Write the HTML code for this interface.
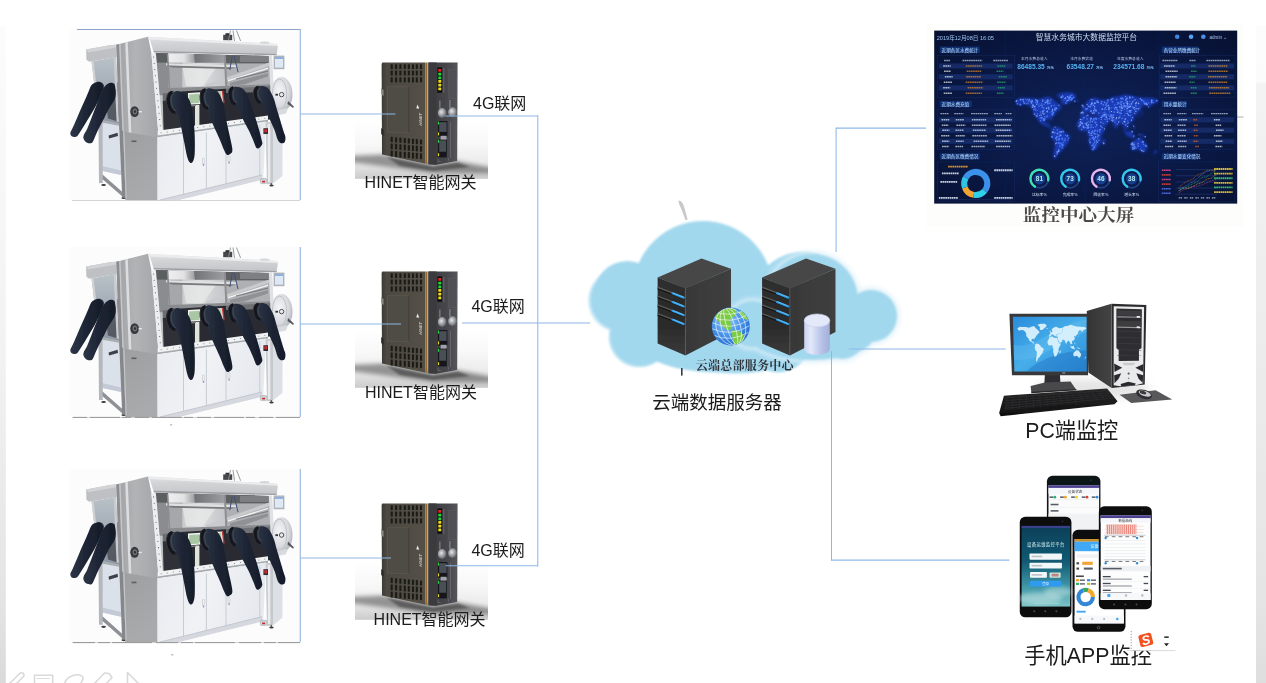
<!DOCTYPE html>
<html lang="zh-CN">
<head>
<meta charset="utf-8">
<title>云端数据服务器 - 设备联网监控拓扑</title>
<style>
html,body{margin:0;padding:0;background:#fff;}
body{width:1266px;height:683px;overflow:hidden;position:relative;font-family:"Liberation Sans","Noto Sans CJK SC",sans-serif;}
svg{position:absolute;left:0;top:0;display:block;}
text{font-family:"Liberation Sans","Noto Sans CJK SC",sans-serif;}
.serif{font-family:"Liberation Serif","Noto Serif CJK SC",serif;}
</style>
</head>
<body>
<svg width="1266" height="683" viewBox="0 0 1266 683">
<defs>

<filter id="b03" x="-5%" y="-5%" width="110%" height="110%"><feGaussianBlur stdDeviation="0.35"/></filter>
<filter id="b05" x="-5%" y="-5%" width="110%" height="110%"><feGaussianBlur stdDeviation="0.55"/></filter>
<filter id="b08" x="-5%" y="-5%" width="110%" height="110%"><feGaussianBlur stdDeviation="0.8"/></filter>
<filter id="b1" x="-10%" y="-10%" width="120%" height="120%"><feGaussianBlur stdDeviation="1.2"/></filter>
<filter id="b2" x="-20%" y="-20%" width="140%" height="140%"><feGaussianBlur stdDeviation="2.2"/></filter>
<filter id="b4" x="-30%" y="-30%" width="160%" height="160%"><feGaussianBlur stdDeviation="4"/></filter>
<linearGradient id="edgeR" x1="0" y1="0" x2="0" y2="1">
 <stop offset="0" stop-color="#fcfcfc"/><stop offset="0.084" stop-color="#fbfbfb"/><stop offset="0.088" stop-color="#f3f3f3"/><stop offset="0.5" stop-color="#ececec"/><stop offset="0.87" stop-color="#e5e5e5"/><stop offset="1" stop-color="#dedede"/>
</linearGradient>
<linearGradient id="edgeL" x1="0" y1="0" x2="0" y2="1">
 <stop offset="0" stop-color="#fcfcfc"/><stop offset="0.09" stop-color="#fafafa"/><stop offset="0.2" stop-color="#f8f8f8"/><stop offset="0.5" stop-color="#f2f2f2"/><stop offset="0.87" stop-color="#e4e4e4"/><stop offset="1" stop-color="#dadada"/>
</linearGradient>

<linearGradient id="gbGlove" x1="0" y1="0" x2="1" y2="0">
 <stop offset="0" stop-color="#2b3547"/><stop offset="0.5" stop-color="#1d2534"/><stop offset="1" stop-color="#161c29"/>
</linearGradient>
<linearGradient id="gbSide" x1="0" y1="0" x2="1" y2="0">
 <stop offset="0" stop-color="#9fa1a4"/><stop offset="0.45" stop-color="#b1b3b5"/><stop offset="1" stop-color="#a3a5a8"/>
</linearGradient>
<linearGradient id="gbSideLow" x1="0" y1="0" x2="0.3" y2="1">
 <stop offset="0" stop-color="#9d9fa1"/><stop offset="1" stop-color="#a9aaac"/>
</linearGradient>
<linearGradient id="gbCab" x1="0" y1="0" x2="1" y2="0.2">
 <stop offset="0" stop-color="#e8ebf0"/><stop offset="0.5" stop-color="#f0f2f5"/><stop offset="1" stop-color="#e6e9ee"/>
</linearGradient>
<linearGradient id="gbGlass" x1="0" y1="0" x2="0" y2="1">
 <stop offset="0" stop-color="#5b5d60"/><stop offset="0.10" stop-color="#94969a"/><stop offset="0.2" stop-color="#c6c8ca"/><stop offset="0.45" stop-color="#c2c4c6"/><stop offset="1" stop-color="#b4b6b9"/>
</linearGradient>
<clipPath id="gbGlassClip"><polygon points="155.5,53 270,56 274,119 162.8,134.5"/></clipPath>
<linearGradient id="gbWall" x1="0" y1="0" x2="1" y2="0">
 <stop offset="0" stop-color="#c9cacc"/><stop offset="0.4" stop-color="#dcdddf"/><stop offset="1" stop-color="#c4c5c8"/>
</linearGradient>
<linearGradient id="gbRefl" x1="0" y1="0" x2="1" y2="0">
 <stop offset="0" stop-color="#efefef"/><stop offset="0.6" stop-color="#e2e2e3"/><stop offset="1" stop-color="#9c9ea1"/>
</linearGradient>
<linearGradient id="gbBand2" x1="0" y1="0" x2="1" y2="0">
 <stop offset="0" stop-color="#707275"/><stop offset="1" stop-color="#9d9fa2"/>
</linearGradient>
<linearGradient id="gbLwin" x1="0" y1="0" x2="0" y2="1">
 <stop offset="0" stop-color="#b9c1c8"/><stop offset="1" stop-color="#8b96a4"/>
</linearGradient>
<radialGradient id="gbAnte" cx="0.4" cy="0.4" r="0.7">
 <stop offset="0" stop-color="#f4f5f7"/><stop offset="0.6" stop-color="#d9dbdf"/><stop offset="1" stop-color="#a9adb4"/>
</radialGradient>
<linearGradient id="gbCap" x1="0" y1="0" x2="0" y2="1">
 <stop offset="0" stop-color="#e2e3e5"/><stop offset="0.35" stop-color="#d3d4d6"/><stop offset="1" stop-color="#c4c5c8"/>
</linearGradient>

<linearGradient id="gwShade" x1="0" y1="0" x2="0" y2="1">
 <stop offset="0" stop-color="#ffffff"/><stop offset="0.4" stop-color="#f8f8f8"/><stop offset="0.7" stop-color="#ececec"/><stop offset="0.9" stop-color="#d6d6d6"/><stop offset="1" stop-color="#cbcbcb"/>
</linearGradient>
<linearGradient id="gwSide" x1="0" y1="0" x2="1" y2="0">
 <stop offset="0" stop-color="#3e3c36"/><stop offset="0.12" stop-color="#4c4941"/><stop offset="1" stop-color="#545047"/>
</linearGradient>
<linearGradient id="gwFront" x1="0" y1="0" x2="1" y2="0">
 <stop offset="0" stop-color="#3c3c40"/><stop offset="0.6" stop-color="#46464b"/><stop offset="1" stop-color="#55555b"/>
</linearGradient>
<radialGradient id="gwSma" cx="0.4" cy="0.4" r="0.7">
 <stop offset="0" stop-color="#e4e6e8"/><stop offset="0.5" stop-color="#9a9da1"/><stop offset="1" stop-color="#4a4c50"/>
</radialGradient>
<clipPath id="gwClip"><rect x="355" y="120" width="133" height="58.8"/></clipPath>

<linearGradient id="svSide" x1="0" y1="0" x2="1" y2="0">
 <stop offset="0" stop-color="#383838"/><stop offset="1" stop-color="#3f3f3f"/>
</linearGradient>
<linearGradient id="svFront" x1="0" y1="0" x2="0" y2="1">
 <stop offset="0" stop-color="#2e2e2e"/><stop offset="0.6" stop-color="#2a2a2a"/><stop offset="1" stop-color="#3a3a3a"/>
</linearGradient>
<radialGradient id="globeG" cx="0.4" cy="0.35" r="0.75">
 <stop offset="0" stop-color="#8cc4fb"/><stop offset="0.6" stop-color="#3d8be6"/><stop offset="1" stop-color="#1f5fc2"/>
</radialGradient>
<linearGradient id="cylSide" x1="0" y1="0" x2="1" y2="0">
 <stop offset="0" stop-color="#c9d3f1"/><stop offset="0.25" stop-color="#e3e9fa"/><stop offset="0.7" stop-color="#b4c0e6"/><stop offset="1" stop-color="#a3afd9"/>
</linearGradient>
<clipPath id="globeClip"><circle cx="730.8" cy="326.5" r="18.6"/></clipPath>

<radialGradient id="dsBg" cx="0.5" cy="0.55" r="0.75">
 <stop offset="0" stop-color="#0f2258"/><stop offset="0.55" stop-color="#0a1844"/><stop offset="1" stop-color="#061030"/>
</radialGradient>
<pattern id="mapDots" width="1.6" height="1.6" patternUnits="userSpaceOnUse">
 <rect width="1.6" height="1.6" fill="#1d3fc4"/>
 <circle cx="0.5" cy="0.5" r="0.45" fill="#6f9bff"/>
 <circle cx="1.3" cy="1.2" r="0.3" fill="#3f6cf5"/>
</pattern>
<clipPath id="dsClip"><rect x="934.2" y="30.6" width="303" height="173"/></clipPath>

<linearGradient id="pcScr" x1="0" y1="0" x2="1" y2="1">
 <stop offset="0" stop-color="#2a8cdb"/><stop offset="0.5" stop-color="#46aeea"/><stop offset="1" stop-color="#2c8ad6"/>
</linearGradient>
<linearGradient id="pcTowerS" x1="0" y1="0" x2="1" y2="0">
 <stop offset="0" stop-color="#343434"/><stop offset="1" stop-color="#444444"/>
</linearGradient>
<linearGradient id="pcKb" x1="0" y1="0" x2="0" y2="1">
 <stop offset="0" stop-color="#2a2a2a"/><stop offset="1" stop-color="#0e0e0e"/>
</linearGradient>
<linearGradient id="pcFloor" x1="0" y1="0" x2="0" y2="1">
 <stop offset="0" stop-color="#ffffff" stop-opacity="0"/><stop offset="1" stop-color="#d8d8d8" stop-opacity="0.9"/>
</linearGradient>
<clipPath id="pcScrClip"><polygon points="1012.87,316.72 1086.61,316.72 1086.61,371.61 1014.34,371.61"/></clipPath>

<linearGradient id="phB" x1="0" y1="0" x2="0" y2="1">
 <stop offset="0" stop-color="#0c3f58"/><stop offset="0.45" stop-color="#125a73"/><stop offset="0.75" stop-color="#3f97a6"/><stop offset="1" stop-color="#7cc3c6"/>
</linearGradient>

<g id="gb"><rect x="70" y="30" width="230.3" height="170.3" fill="#fcfcfc"/><g filter="url(#b05)"><polygon points="102,122.3 121,126 121,175 102.5,171" fill="#dbe1ea"/><polygon points="102,166 121,170.5 121,175 102.5,171" fill="#c3cad6"/><polygon points="108.6,135.4 117.6,132.8 118,136 109,138.6" fill="#3d4046"/><polygon points="98.4,119 102.6,120 102.8,183 99,183" fill="#b4b8bd"/><polygon points="98.6,118.6 121.5,122.8 121.5,126.2 98.6,122" fill="#a9adb2"/><polygon points="102.5,174.5 123,192.5 123,197 102.5,179.3" fill="#8d9196"/><ellipse cx="103.6" cy="185" rx="2.4" ry="1.1" fill="#3a3a3c"/><ellipse cx="123.8" cy="198" rx="2.4" ry="1.1" fill="#3a3a3c"/><polygon points="91.5,61.5 116,57 119.5,123.6 98.6,119.2" fill="url(#gbLwin)"/><polygon points="104,88 118,82 119.5,122 108,118.6" fill="#4a4f57" opacity="0.85"/><polygon points="91.5,61.5 93.6,61.2 100.4,119.6 98.6,119.2" fill="#d0d3d6"/><polygon points="113.5,57.5 116,57 119,122 116.6,121.6" fill="#c9cbce"/><polygon points="86.1,49.6 109.8,45.2 114.9,44.8 116.5,44.8 116.5,57 89.3,61.8 86.4,59.8" fill="#bfc0c3"/><polygon points="86.1,49.6 109.8,45.2 116.5,44.8 116.5,47.6 88,52.4" fill="#d2d3d5"/><polygon points="116.4,44.8 148,36.8 151.5,53.5 158.5,135 157.4,137.5 123,132 119.3,129" fill="url(#gbSide)"/><polygon points="116.4,44.8 119.2,44.1 122.4,131.5 119.3,129" fill="#8b8d90"/><polygon points="125.2,42.6 127.8,42 131.4,133.2 128.8,132.8" fill="#dcdddf"/><polygon points="119.2,44.1 120.6,43.8 123.8,131.8 122.4,131.5" fill="#c6c7c9"/><polygon points="123,131.5 157.4,137 157.6,200.3 125.3,200.3" fill="url(#gbSideLow)"/><polygon points="119.3,128.6 123.2,131.5 125.6,198 122.2,197.4" fill="#85878a"/><polygon points="123.2,131.5 124.4,131.7 126.7,198.2 125.6,198" fill="#c4c5c7"/><rect x="131.5" y="140.5" width="5" height="1.6" fill="#5d5f62"/><ellipse cx="134.6" cy="111.6" rx="4.3" ry="5.4" fill="#37393c"/><ellipse cx="134.9" cy="111.6" rx="2.3" ry="3" fill="#6d7074"/><ellipse cx="135" cy="111.6" rx="1" ry="1.4" fill="#2c2d2f"/><rect x="138.4" y="111" width="3.6" height="1.4" rx="0.7" fill="#e4e4e4"/><polygon points="155.5,53 270,56 274,119 162.8,134.5" fill="url(#gbGlass)"/><g clip-path="url(#gbGlassClip)"><rect x="155" y="60" width="13" height="34" fill="#8a8c8f"/><rect x="168" y="60" width="14.5" height="34" fill="#a5a7aa"/><rect x="182.5" y="60" width="43" height="34" fill="url(#gbWall)"/><rect x="225.4" y="60" width="46" height="34" fill="#aeb0b3"/><rect x="155" y="52" width="13" height="10.6" fill="#5c5e61"/><rect x="168" y="52" width="26.5" height="10.6" fill="url(#gbRefl)"/><rect x="194.5" y="52" width="31" height="10.8" fill="url(#gbBand2)"/><rect x="225.4" y="52" width="46" height="11.4" fill="#5f6164"/><rect x="240" y="56" width="30" height="6" fill="#7d7f82"/><polygon points="182.5,67 216,68 203,86 186,86" fill="#e9e9ea" opacity="0.7"/><polygon points="166,63.2 237,65.2 237,67.4 166,65.6" fill="#e0e0e1"/><polygon points="166,65.6 237,67.4 230,69 172,67.6" fill="#77797c"/><polygon points="206,84.6 269,62.6 269,66 206,87.6" fill="#c9cacc"/><polygon points="228,80 268,67.6 268,69 228,81.4" fill="#f2f2f2"/><polygon points="230,83 268,73 268,76.4 244,84.6 230,85.8" fill="#8f9194"/><polygon points="236,78.4 268,70.6 268,71.8 236,79.6" fill="#7b7d80"/><line x1="224.8" y1="55" x2="226.4" y2="88" stroke="#8d8f92" stroke-width="2"/><line x1="167.6" y1="54" x2="169.6" y2="92" stroke="#8a8c8f" stroke-width="1.6"/><path d="M232.2 56.4 L229.8 70 M234.2 56.4 L238 72" stroke="#3f4f78" stroke-width="1" fill="none"/><polygon points="156,88.4 272,84.2 272,90 156,95.4" fill="#8a8c8f"/></g><polygon points="162.6,93.5 181,91.6 181,131.5 163.6,134" fill="#6a6d71"/><polygon points="181,91.6 271,86 272.4,119 181,131.8" fill="#2a2c30"/><polygon points="162.8,101 181,99 181,131.6 164,134" fill="#2f3237"/><polygon points="226,87 271,85 271,92 226,93" fill="#8d8f92" opacity="0.7"/><polygon points="188,93 200.4,92.2 200.4,104 188,104.8" fill="#f1f3f1"/><polygon points="189.2,94.6 199.4,93.8 199.4,103 189.2,103.6" fill="#a9c7a4"/><polygon points="195,105 199.4,104.8 199.4,128 195,128.6" fill="#dfe3dc"/><polygon points="216.6,91.4 223,91 223,102 216.6,102.4" fill="#eef0ee"/><polygon points="217.4,92.6 221.4,92.3 221.4,99.6 217.4,99.9" fill="#b3cdae"/><polygon points="221.8,91.2 223.2,91.1 224.6,103 223.2,103.2" fill="#c4383c"/><polygon points="183,106 196,104.6 196,106 183,107.4" fill="#7e8185"/><polygon points="151.3,53.3 155.9,53.3 163.2,136 158.6,136.6" fill="#eceef0"/><circle cx="153.6" cy="57.0" r="0.55" fill="#55585c"/><circle cx="154.2" cy="63.2" r="0.55" fill="#55585c"/><circle cx="154.8" cy="69.5" r="0.55" fill="#55585c"/><circle cx="155.4" cy="75.8" r="0.55" fill="#55585c"/><circle cx="156.0" cy="82.0" r="0.55" fill="#55585c"/><circle cx="156.6" cy="88.2" r="0.55" fill="#55585c"/><circle cx="157.2" cy="94.5" r="0.55" fill="#55585c"/><circle cx="157.9" cy="100.8" r="0.55" fill="#55585c"/><circle cx="158.5" cy="107.0" r="0.55" fill="#55585c"/><circle cx="159.1" cy="113.2" r="0.55" fill="#55585c"/><circle cx="159.7" cy="119.5" r="0.55" fill="#55585c"/><circle cx="160.3" cy="125.8" r="0.55" fill="#55585c"/><circle cx="160.9" cy="132.0" r="0.55" fill="#55585c"/><polygon points="268.8,55.5 272.2,55.6 275.2,121 271.8,121.4" fill="#dfe1e4"/><polygon points="148,36.8 277,44 277.8,47 276.6,54.8 153.7,52 150.3,41" fill="url(#gbCap)"/><polygon points="148,36.8 277,44 277.6,46 150,39.4" fill="#ebecee"/><polygon points="153.7,51 276.6,53.9 276.6,55.2 153.9,52.6" fill="#9c9ea1"/><rect x="223.2" y="34.8" width="9" height="5.4" fill="#45474b"/><rect x="225.5" y="33.2" width="4" height="2" fill="#2d2e31"/><path d="M230.5 30.5 L228.4 40.5 M236.5 30.5 L240.6 41 M233 30.5 L234.5 41" stroke="#8f9195" stroke-width="0.9" fill="none"/><ellipse cx="264.5" cy="42.6" rx="5" ry="1.2" fill="#d6d7d9"/><rect x="273.6" y="55.6" width="10.8" height="13.6" fill="#aeb3ba"/><rect x="275" y="57" width="8" height="10.6" fill="#dfe8f5"/><rect x="275" y="57" width="8" height="2" fill="#8fb0dc"/><ellipse cx="281.5" cy="94.5" rx="11" ry="17.5" fill="url(#gbAnte)"/><ellipse cx="279.5" cy="94.5" rx="7.2" ry="15.5" fill="none" stroke="#bfc2c7" stroke-width="1"/><polygon points="288,101 293.8,106.5 293.2,108 287.5,104" fill="#55585e"/><circle cx="281.6" cy="94.6" r="2.2" fill="none" stroke="#3c3e42" stroke-width="0.9"/><rect x="275.4" y="93.8" width="2.6" height="1.8" fill="#2f3033"/><polygon points="273,111 288,108 286,113.5 274,116" fill="#d8dade"/><polygon points="157.6,130.8 268,115.4 268,120.2 157.6,135.8" fill="#f1f2f4"/><polygon points="157.6,135.4 268,119.8 268,121.8 157.6,137.4" fill="#a7aaae"/><circle cx="161.1" cy="132.8" r="0.5" fill="#6a6d72"/><circle cx="167.2" cy="131.9" r="0.5" fill="#6a6d72"/><circle cx="173.3" cy="131.1" r="0.5" fill="#6a6d72"/><circle cx="179.4" cy="130.2" r="0.5" fill="#6a6d72"/><circle cx="185.5" cy="129.3" r="0.5" fill="#6a6d72"/><circle cx="191.6" cy="128.5" r="0.5" fill="#6a6d72"/><circle cx="197.7" cy="127.6" r="0.5" fill="#6a6d72"/><circle cx="203.8" cy="126.8" r="0.5" fill="#6a6d72"/><circle cx="209.9" cy="125.9" r="0.5" fill="#6a6d72"/><circle cx="216.1" cy="125.1" r="0.5" fill="#6a6d72"/><circle cx="222.2" cy="124.2" r="0.5" fill="#6a6d72"/><circle cx="228.3" cy="123.4" r="0.5" fill="#6a6d72"/><circle cx="234.4" cy="122.5" r="0.5" fill="#6a6d72"/><circle cx="240.5" cy="121.6" r="0.5" fill="#6a6d72"/><circle cx="246.6" cy="120.8" r="0.5" fill="#6a6d72"/><circle cx="252.7" cy="119.9" r="0.5" fill="#6a6d72"/><circle cx="258.8" cy="119.1" r="0.5" fill="#6a6d72"/><circle cx="264.9" cy="118.2" r="0.5" fill="#6a6d72"/><polygon points="157.6,137.2 266,121.6 263.2,179.5 178,200.3 157.6,200.3" fill="url(#gbCab)"/><polygon points="160,200.3 262,175.2 262.6,179.6 178,200.3" fill="#d5d9df"/><line x1="160" y1="200" x2="262" y2="175" stroke="#b9bdc4" stroke-width="0.8"/><line x1="206.4" y1="132.5" x2="206.4" y2="189" stroke="#c3c8d0" stroke-width="0.9"/><line x1="226" y1="129.6" x2="226" y2="184" stroke="#c3c8d0" stroke-width="0.9"/><line x1="259.8" y1="124.6" x2="259.8" y2="175.6" stroke="#c3c8d0" stroke-width="0.9"/><line x1="183.5" y1="136" x2="183.5" y2="194.5" stroke="#c3c8d0" stroke-width="0.9"/><rect x="202.5" y="158.1" width="1.8" height="5.6" rx="0.6" fill="#fafbfc" stroke="#aab0ba" stroke-width="0.5"/><rect x="202.8" y="163.9" width="1.4" height="2" fill="#8ea2c4"/><rect x="228.1" y="155.79999999999998" width="1.8" height="5.6" rx="0.6" fill="#fafbfc" stroke="#aab0ba" stroke-width="0.5"/><rect x="228.4" y="161.6" width="1.4" height="2" fill="#8ea2c4"/><polygon points="265.6,122.6 273,121.4 273,183.4 267,184.2" fill="#c5c8cc"/><polygon points="267.6,124 270.2,123.6 270.4,182 268,182.4" fill="#e9ebee"/><polygon points="273,121.4 282.6,124.8 282.4,176 273,183.4" fill="#dcdfe4"/><rect x="263.4" y="128.2" width="4.6" height="5.8" fill="#303236"/><rect x="264.3" y="129.2" width="2.8" height="3" fill="#d02630"/><rect x="260.4" y="178.6" width="6.4" height="5" rx="1" fill="#cfd2d6" stroke="#9b9fa5" stroke-width="0.5"/><rect x="262.2" y="180.8" width="2.8" height="1.6" fill="#c8232c"/><rect x="270.6" y="183" width="1.4" height="2.6" fill="#66696e"/><ellipse cx="271.5" cy="185.6" rx="2.2" ry="1" fill="#3a3b3e"/><g transform="translate(99.6,87) rotate(-25)"><ellipse rx="4.6" ry="5.2" fill="#30343b"/><ellipse rx="3.3" ry="3.8000000000000003" fill="none" stroke="#5a5f68" stroke-width="0.7"/></g><path d="M94.4 83.0 C95.9 82.4 98.4 81.4 99.9 82.1 C101.4 82.8 103.1 84.7 103.2 87.1 C103.3 89.5 101.8 93.0 100.3 96.6 C98.8 100.2 96.6 104.6 94.4 108.6 C92.2 112.6 89.6 116.6 87.2 120.6 C84.8 124.6 81.6 129.8 79.8 132.4 C78.0 135.0 77.9 135.7 76.6 136.4 C75.3 137.1 73.2 137.1 72.2 136.6 C71.2 136.1 70.2 134.7 70.3 133.2 C70.4 131.7 71.4 130.7 72.8 127.6 C74.2 124.5 76.7 118.6 78.5 114.4 C80.3 110.2 82.1 106.2 83.8 102.5 C85.5 98.8 87.2 94.8 88.4 92.0 C89.6 89.2 90.2 87.1 91.2 85.6 C92.2 84.1 93.0 83.6 94.4 83.0 Z" fill="url(#gbGlove)"/><g transform="translate(112,91) rotate(-8)"><ellipse rx="3.6" ry="8" fill="#30343b"/><ellipse rx="2.3" ry="6.6" fill="none" stroke="#5a5f68" stroke-width="0.7"/></g><path d="M105.6 85.6 C107.0 84.1 109.0 82.9 110.5 82.8 C112.0 82.7 114.0 82.9 114.8 85.2 C115.6 87.5 115.7 93.6 115.4 96.4 C115.1 99.2 114.4 99.7 113.2 102.0 C112.0 104.3 109.9 106.9 108.2 110.0 C106.5 113.1 104.7 117.1 102.9 120.6 C101.1 124.1 99.1 128.0 97.6 131.0 C96.1 134.1 95.1 136.9 94.1 138.9 C93.1 140.9 92.9 142.4 91.6 143.0 C90.3 143.6 87.8 143.2 86.5 142.4 C85.2 141.7 83.9 139.8 83.5 138.5 C83.1 137.2 83.4 136.0 84.0 134.4 C84.6 132.8 85.7 132.0 87.1 128.9 C88.5 125.8 90.7 119.9 92.3 115.7 C93.9 111.5 95.3 107.9 96.9 103.9 C98.5 100.0 100.3 95.0 101.8 92.0 C103.2 89.0 104.1 87.1 105.6 85.6 Z" fill="url(#gbGlove)"/><g transform="translate(172.8,102.4) rotate(-8)"><ellipse rx="6.8" ry="11.4" fill="#30343b"/><ellipse rx="5.5" ry="10.0" fill="none" stroke="#5a5f68" stroke-width="0.7"/></g><g transform="translate(205.7,99.1) rotate(-8)"><ellipse rx="6.2" ry="10.6" fill="#30343b"/><ellipse rx="4.9" ry="9.2" fill="none" stroke="#5a5f68" stroke-width="0.7"/></g><g transform="translate(233.4,96.1) rotate(-8)"><ellipse rx="5.6" ry="9.4" fill="#30343b"/><ellipse rx="4.3" ry="8.0" fill="none" stroke="#5a5f68" stroke-width="0.7"/></g><g transform="translate(258.5,94.8) rotate(-8)"><ellipse rx="5.6" ry="8.8" fill="#30343b"/><ellipse rx="4.3" ry="7.4" fill="none" stroke="#5a5f68" stroke-width="0.7"/></g><path d="M176.7 91.0 C179.0 90.7 183.0 92.2 185.3 94.3 C187.7 96.4 189.5 99.5 190.8 103.7 C192.2 107.9 192.8 114.2 193.4 119.5 C194.1 124.8 194.5 129.6 194.7 135.3 C194.9 141.0 195.0 149.4 194.7 153.8 C194.4 158.2 193.6 160.2 192.8 161.7 C192.0 163.2 190.9 163.5 189.9 162.6 C188.9 161.7 188.0 159.6 187.1 156.4 C186.2 153.2 185.4 148.0 184.4 143.2 C183.4 138.4 182.3 132.2 181.2 127.4 C180.1 122.6 179.0 116.9 177.9 114.5 C176.8 112.1 176.0 114.5 174.8 113.1 C173.7 111.7 171.5 108.8 171.0 106.0 C170.5 103.2 170.7 98.5 171.6 96.0 C172.5 93.5 174.4 91.3 176.7 91.0 Z" fill="url(#gbGlove)"/><path d="M207.7 88.4 C209.8 88.1 214.4 88.9 216.9 91.0 C219.4 93.1 220.9 96.8 222.4 101.1 C223.9 105.4 224.7 111.9 225.7 116.9 C226.7 121.9 227.6 126.4 228.6 131.0 C229.6 135.6 231.0 141.2 231.6 144.6 C232.2 148.0 232.6 149.6 232.3 151.2 C232.1 152.8 231.0 153.4 230.1 154.0 C229.2 154.6 227.9 155.5 226.8 154.7 C225.7 153.9 224.7 151.3 223.6 149.0 C222.5 146.7 221.7 144.0 220.4 141.0 C219.1 138.0 217.3 134.2 215.8 130.8 C214.3 127.4 212.4 123.5 211.2 120.5 C210.0 117.5 209.3 114.5 208.4 112.6 C207.5 110.7 206.4 110.8 205.6 109.0 C204.8 107.2 203.6 104.7 203.4 102.0 C203.2 99.3 203.5 95.3 204.2 93.0 C204.9 90.7 205.6 88.7 207.7 88.4 Z" fill="url(#gbGlove)"/><path d="M234.8 86.9 C236.7 86.6 240.9 87.3 243.3 89.3 C245.7 91.3 247.3 95.1 249.0 98.7 C250.7 102.3 251.9 107.2 253.2 111.0 C254.5 114.8 255.6 118.2 256.6 121.5 C257.6 124.8 258.5 127.8 259.4 131.0 C260.3 134.2 261.4 138.8 261.9 141.0 C262.4 143.2 262.5 142.9 262.2 144.0 C261.9 145.1 260.8 146.7 259.8 147.4 C258.9 148.1 257.5 149.0 256.5 148.0 C255.5 147.0 254.8 144.1 253.6 141.2 C252.3 138.3 250.7 134.2 249.0 130.8 C247.3 127.4 245.1 123.8 243.5 120.5 C241.9 117.2 240.6 113.5 239.4 111.0 C238.2 108.5 237.6 106.5 236.6 105.4 C235.6 104.3 234.5 105.5 233.6 104.4 C232.7 103.3 231.5 101.2 231.2 99.0 C230.9 96.8 231.4 93.0 232.0 91.0 C232.6 89.0 232.9 87.2 234.8 86.9 Z" fill="url(#gbGlove)"/><path d="M260.5 86.0 C262.2 85.7 265.6 86.1 267.7 88.0 C269.8 89.9 271.8 93.7 273.4 97.4 C275.0 101.1 276.0 106.5 277.2 110.3 C278.4 114.1 279.3 117.1 280.3 120.5 C281.3 123.9 282.5 128.1 283.4 130.8 C284.2 133.6 285.2 135.1 285.4 137.0 C285.6 138.9 285.3 141.2 284.6 142.2 C283.9 143.2 282.2 143.6 281.0 143.2 C279.8 142.8 278.6 141.7 277.6 139.6 C276.6 137.5 276.0 134.0 274.8 130.8 C273.6 127.6 271.7 123.9 270.2 120.5 C268.7 117.1 266.8 113.0 265.6 110.3 C264.4 107.6 264.1 105.7 263.1 104.6 C262.1 103.5 260.9 104.6 259.8 103.5 C258.8 102.4 257.2 100.2 256.8 98.0 C256.4 95.8 256.6 92.0 257.2 90.0 C257.8 88.0 258.8 86.3 260.5 86.0 Z" fill="url(#gbGlove)"/><g transform="translate(172.8,102.4) rotate(-8)"><path d="M1 -10.200000000000001 A5.4 10.200000000000001 0 0 0 1 10.200000000000001" fill="none" stroke="#14161a" stroke-width="3"/><path d="M2.4 -8.8 A3.8 8.600000000000001 0 0 0 2.4 8.600000000000001" fill="none" stroke="#565b63" stroke-width="0.6"/></g><g transform="translate(205.7,99.1) rotate(-8)"><path d="M1 -9.4 A4.800000000000001 9.4 0 0 0 1 9.4" fill="none" stroke="#14161a" stroke-width="3"/><path d="M2.4 -8.0 A3.2 7.8 0 0 0 2.4 7.8" fill="none" stroke="#565b63" stroke-width="0.6"/></g><g transform="translate(233.4,96.1) rotate(-8)"><path d="M1 -8.200000000000001 A4.199999999999999 8.200000000000001 0 0 0 1 8.200000000000001" fill="none" stroke="#14161a" stroke-width="3"/><path d="M2.4 -6.800000000000001 A2.5999999999999996 6.6000000000000005 0 0 0 2.4 6.6000000000000005" fill="none" stroke="#565b63" stroke-width="0.6"/></g><g transform="translate(258.5,94.8) rotate(-8)"><path d="M1 -7.6000000000000005 A4.199999999999999 7.6000000000000005 0 0 0 1 7.6000000000000005" fill="none" stroke="#14161a" stroke-width="3"/><path d="M2.4 -6.200000000000001 A2.5999999999999996 6.000000000000001 0 0 0 2.4 6.000000000000001" fill="none" stroke="#565b63" stroke-width="0.6"/></g></g><line x1="72" y1="200.5" x2="300" y2="200.5" stroke="#c9c9c9" stroke-width="0.8"/></g>
<g id="gw"><rect x="355" y="120" width="133" height="58.8" fill="url(#gwShade)"/><g clip-path="url(#gwClip)"><polygon points="350,156 383.2,154.4 432.9,164.8 456.6,161 492,168 492,173.4 432.9,173 385.5,166.4 350,162" fill="#4a4a4a" opacity="0.55" filter="url(#b2)"/><polygon points="386,156.5 432.9,166.4 458,162.4 470,167 432.9,171 400,166" fill="#333" opacity="0.55" filter="url(#b1)"/></g><g filter="url(#b05)"><polygon points="382.4,62.4 425.6,62.4 425.6,163.8 382,154.4 381.6,64" fill="url(#gwSide)"/><polygon points="381.2,88 383.6,90 383.6,96 381.2,94" fill="#8a877f"/><polygon points="381.2,128 383.6,130 383.6,136 381.2,134" fill="#2c2a26"/><rect x="387.3" y="86.8" width="21.4" height="45.4" fill="#4f4c44" stroke="#5f5b52" stroke-width="0.7"/><line x1="408.7" y1="86.8" x2="408.7" y2="132.2" stroke="#3a3832" stroke-width="0.8"/><rect x="390.65" y="64.2" width="2.1" height="4.8" rx="0.6" fill="#1d1c19"/><rect x="395.05" y="64.2" width="2.1" height="4.8" rx="0.6" fill="#1d1c19"/><rect x="399.34999999999997" y="64.2" width="2.1" height="4.8" rx="0.6" fill="#1d1c19"/><rect x="403.75" y="64.2" width="2.1" height="4.8" rx="0.6" fill="#1d1c19"/><rect x="407.75" y="64.2" width="2.1" height="4.8" rx="0.6" fill="#1d1c19"/><rect x="411.95" y="64.2" width="2.1" height="4.8" rx="0.6" fill="#1d1c19"/><rect x="415.75" y="64.2" width="2.1" height="4.8" rx="0.6" fill="#1d1c19"/><rect x="419.95" y="64.2" width="2.1" height="4.8" rx="0.6" fill="#1d1c19"/><rect x="390.65" y="70.6" width="2.1" height="5.0" rx="0.6" fill="#1d1c19"/><rect x="395.05" y="70.6" width="2.1" height="5.0" rx="0.6" fill="#1d1c19"/><rect x="399.34999999999997" y="70.6" width="2.1" height="5.0" rx="0.6" fill="#1d1c19"/><rect x="403.75" y="70.6" width="2.1" height="5.0" rx="0.6" fill="#1d1c19"/><rect x="407.75" y="70.6" width="2.1" height="5.0" rx="0.6" fill="#1d1c19"/><rect x="411.95" y="70.6" width="2.1" height="5.0" rx="0.6" fill="#1d1c19"/><rect x="415.75" y="70.6" width="2.1" height="5.0" rx="0.6" fill="#1d1c19"/><rect x="419.95" y="70.6" width="2.1" height="5.0" rx="0.6" fill="#1d1c19"/><rect x="390.65" y="77.2" width="2.1" height="5.2" rx="0.6" fill="#1d1c19"/><rect x="395.05" y="77.2" width="2.1" height="5.2" rx="0.6" fill="#1d1c19"/><rect x="399.34999999999997" y="77.2" width="2.1" height="5.2" rx="0.6" fill="#1d1c19"/><rect x="403.75" y="77.2" width="2.1" height="5.2" rx="0.6" fill="#1d1c19"/><rect x="407.75" y="77.2" width="2.1" height="5.2" rx="0.6" fill="#1d1c19"/><rect x="411.95" y="77.2" width="2.1" height="5.2" rx="0.6" fill="#1d1c19"/><rect x="415.75" y="77.2" width="2.1" height="5.2" rx="0.6" fill="#1d1c19"/><rect x="419.95" y="77.2" width="2.1" height="5.2" rx="0.6" fill="#1d1c19"/><rect x="390.65" y="136.8" width="2.1" height="5.2" rx="0.6" fill="#1d1c19"/><rect x="395.05" y="137.2" width="2.1" height="5.2" rx="0.6" fill="#1d1c19"/><rect x="399.34999999999997" y="137.6" width="2.1" height="5.2" rx="0.6" fill="#1d1c19"/><rect x="403.75" y="138.0" width="2.1" height="5.2" rx="0.6" fill="#1d1c19"/><rect x="407.75" y="138.3" width="2.1" height="5.2" rx="0.6" fill="#1d1c19"/><rect x="411.95" y="138.7" width="2.1" height="5.2" rx="0.6" fill="#1d1c19"/><rect x="415.75" y="139.0" width="2.1" height="5.2" rx="0.6" fill="#1d1c19"/><rect x="419.95" y="139.4" width="2.1" height="5.2" rx="0.6" fill="#1d1c19"/><rect x="390.65" y="143.4" width="2.1" height="5.8" rx="0.6" fill="#1d1c19"/><rect x="395.05" y="143.8" width="2.1" height="5.8" rx="0.6" fill="#1d1c19"/><rect x="399.34999999999997" y="144.2" width="2.1" height="5.8" rx="0.6" fill="#1d1c19"/><rect x="403.75" y="144.6" width="2.1" height="5.8" rx="0.6" fill="#1d1c19"/><rect x="407.75" y="144.9" width="2.1" height="5.8" rx="0.6" fill="#1d1c19"/><rect x="411.95" y="145.3" width="2.1" height="5.8" rx="0.6" fill="#1d1c19"/><rect x="415.75" y="145.6" width="2.1" height="5.8" rx="0.6" fill="#1d1c19"/><rect x="419.95" y="146.0" width="2.1" height="5.8" rx="0.6" fill="#1d1c19"/><rect x="390.65" y="150.6" width="2.1" height="6.0" rx="0.6" fill="#1d1c19"/><rect x="395.05" y="151.0" width="2.1" height="6.0" rx="0.6" fill="#1d1c19"/><rect x="399.34999999999997" y="151.4" width="2.1" height="6.0" rx="0.6" fill="#1d1c19"/><rect x="403.75" y="151.8" width="2.1" height="6.0" rx="0.6" fill="#1d1c19"/><rect x="407.75" y="152.1" width="2.1" height="6.0" rx="0.6" fill="#1d1c19"/><rect x="411.95" y="152.5" width="2.1" height="6.0" rx="0.6" fill="#1d1c19"/><rect x="415.75" y="152.8" width="2.1" height="6.0" rx="0.6" fill="#1d1c19"/><rect x="419.95" y="153.2" width="2.1" height="6.0" rx="0.6" fill="#1d1c19"/><text transform="translate(421.6,125.5) rotate(-90)" font-size="4.2" fill="#e8e8e8" font-style="italic">HINET</text><polygon points="417.6,104.6 419.2,108.8 416.2,108.2" fill="#efefef"/><polygon points="425.8,62.4 427.6,62.4 427.6,164.2 425.8,163.8" fill="#9a6a2c"/><polygon points="428.4,62.4 457.6,62.4 457.2,161 436.4,164.8 428.4,164.2" fill="url(#gwFront)"/><polygon points="428.4,62.4 436.6,62.4 436.6,164.8 428.4,164.2" fill="#3a3a3e"/><rect x="437.4" y="67.4" width="4.8" height="25.4" fill="#0f0f10"/><rect x="438.3" y="69.0" width="3" height="2.8" rx="0.5" fill="#ee2222"/><rect x="438.3" y="72.69999999999999" width="3" height="2.8" rx="0.5" fill="#27d53c"/><rect x="438.3" y="76.39999999999999" width="3" height="2.8" rx="0.5" fill="#27d53c"/><rect x="438.3" y="80.0" width="3" height="2.8" rx="0.5" fill="#ecdc1c"/><rect x="438.3" y="83.69999999999999" width="3" height="2.8" rx="0.5" fill="#ecdc1c"/><rect x="438.3" y="87.39999999999999" width="3" height="2.8" rx="0.5" fill="#ecdc1c"/><line x1="443.8" y1="68" x2="443.8" y2="93" stroke="#77777c" stroke-width="0.7"/><rect x="448.6" y="69.6" width="8" height="29" fill="#4f4f55" stroke="#5c5c62" stroke-width="0.5"/><rect x="439.4" y="100.6" width="1" height="8" fill="#8f9195"/><rect x="449.4" y="100" width="1" height="8" fill="#8f9195"/><ellipse cx="442.2" cy="113" rx="4.3" ry="4.9" fill="url(#gwSma)"/><ellipse cx="452.6" cy="112.2" rx="4.4" ry="4.9" fill="url(#gwSma)"/><rect x="437.8" y="121" width="9.6" height="15.6" fill="#17181a"/><rect x="439.2" y="122.2" width="7.4" height="9.7" fill="#4a5057"/><rect x="438.0" y="121.6" width="1.1" height="3" fill="#35d04a"/><rect x="438.0" y="132.4" width="1.1" height="3" fill="#e8d22a"/><rect x="437.8" y="139.2" width="9.0" height="18.2" fill="#17181a"/><rect x="439.2" y="140.39999999999998" width="6.8" height="11.3" fill="#4a5057"/><rect x="438.0" y="139.79999999999998" width="1.1" height="3" fill="#35d04a"/><rect x="438.0" y="153.20000000000002" width="1.1" height="3" fill="#e8d22a"/><rect x="440.6" y="135.8" width="6" height="3.8" fill="#9fa3a8"/><path d="M450.5 122 V158 M438 158.6 V161.6 H441 M448.5 158 V160.6" stroke="#707076" stroke-width="0.7" fill="none"/></g></g>
</defs>

<rect x="0" y="26" width="5.8" height="657" fill="url(#edgeL)"/>
<rect x="1256" y="26" width="10" height="657" fill="url(#edgeR)"/>
<use href="#gb" transform="translate(0,30) scale(1,1) translate(0,-30)"/><use href="#gb" transform="translate(0,247) scale(1,1) translate(0,-30)"/><use href="#gb" transform="translate(0,469.5) scale(1,1.015) translate(0,-30)"/><use href="#gw" transform="translate(0,0)"/><use href="#gw" transform="translate(0,209)"/><use href="#gw" transform="translate(0,441)"/><g><path d="M678.6 200.4 C681 200.2 683.4 203.6 684.2 207 L687.6 219.6 L685.6 220.2 L681.6 209.4 C680.4 206 678.2 203.8 678.6 200.4 Z" fill="#c8c8c8" filter="url(#b05)"/><g fill="#cfeaf6" filter="url(#b1)"><circle cx="619.6" cy="300.6" r="31.6"/><circle cx="639" cy="337" r="30.6"/></g><g fill="#a2d8ee" filter="url(#b08)"><circle cx="627.4" cy="294.3" r="33.3"/><circle cx="621" cy="300" r="30.6"/><circle cx="703" cy="291" r="70"/><circle cx="803" cy="304" r="52"/><circle cx="640" cy="336" r="30"/><ellipse cx="716" cy="334" rx="84" ry="38.5"/><circle cx="778" cy="340" r="32.5"/><ellipse cx="736" cy="346" rx="64" ry="27.6"/></g><g fill="#dff1fa" stroke="#dff1fa" stroke-width="7" opacity="0.7" filter="url(#b2)"><circle cx="752" cy="324" r="23"/><circle cx="812" cy="300" r="46"/><circle cx="871" cy="316" r="26"/><ellipse cx="812" cy="336" rx="62" ry="24"/><circle cx="842" cy="336" r="23"/></g><g fill="#a2d8ee" filter="url(#b08)"><circle cx="752" cy="324" r="23"/><circle cx="812" cy="300" r="46"/><circle cx="871" cy="316" r="26"/><ellipse cx="812" cy="336" rx="62" ry="24"/><circle cx="842" cy="336" r="23"/></g><g filter="url(#b05)"><g transform="translate(0,0)"><polygon points="657.6,277.6 701.5,258.6 731,268.8 685.4,288.4" fill="#474747"/><polygon points="685.4,288.2 731,268.8 731,332 685.4,355.4" fill="url(#svSide)"/><polygon points="657.6,277.6 685.4,288.2 685.4,355.4 657.6,343.6" fill="url(#svFront)"/><polygon points="657.6,286.6 685.4,297.0 685.4,298.6 657.6,288.20000000000005" fill="#5a5a5a"/><polygon points="657.6,288.20000000000005 685.4,298.6 685.4,299.8 657.6,289.40000000000003" fill="#151515"/><line x1="672.4" y1="293.2" x2="683.8" y2="297.8" stroke="#2b9be6" stroke-width="2" stroke-linecap="round"/><line x1="673" y1="292.9" x2="683" y2="297.0" stroke="#7fd0ff" stroke-width="0.6"/><polygon points="657.6,295.40000000000003 685.4,305.8 685.4,307.40000000000003 657.6,297.00000000000006" fill="#5a5a5a"/><polygon points="657.6,297.00000000000006 685.4,307.40000000000003 685.4,308.6 657.6,298.20000000000005" fill="#151515"/><line x1="672.4" y1="302.0" x2="683.8" y2="306.6" stroke="#2b9be6" stroke-width="2" stroke-linecap="round"/><line x1="673" y1="301.7" x2="683" y2="305.8" stroke="#7fd0ff" stroke-width="0.6"/><polygon points="657.6,304.20000000000005 685.4,314.6 685.4,316.20000000000005 657.6,305.80000000000007" fill="#5a5a5a"/><polygon points="657.6,305.80000000000007 685.4,316.20000000000005 685.4,317.40000000000003 657.6,307.00000000000006" fill="#151515"/><line x1="672.4" y1="310.8" x2="683.8" y2="315.40000000000003" stroke="#2b9be6" stroke-width="2" stroke-linecap="round"/><line x1="673" y1="310.5" x2="683" y2="314.6" stroke="#7fd0ff" stroke-width="0.6"/><polygon points="657.6,313.0 685.4,323.4 685.4,325.0 657.6,314.6" fill="#5a5a5a"/><polygon points="657.6,314.6 685.4,325.0 685.4,326.2 657.6,315.8" fill="#151515"/><line x1="672.4" y1="319.59999999999997" x2="683.8" y2="324.2" stroke="#2b9be6" stroke-width="2" stroke-linecap="round"/><line x1="673" y1="319.29999999999995" x2="683" y2="323.4" stroke="#7fd0ff" stroke-width="0.6"/><line x1="685.4" y1="288.4" x2="685.4" y2="355" stroke="#5c5c5c" stroke-width="0.7"/></g><g transform="translate(104.5,0)"><polygon points="657.6,277.6 701.5,258.6 731,268.8 685.4,288.4" fill="#474747"/><polygon points="685.4,288.2 731,268.8 731,332 685.4,355.4" fill="url(#svSide)"/><polygon points="657.6,277.6 685.4,288.2 685.4,355.4 657.6,343.6" fill="url(#svFront)"/><polygon points="657.6,286.6 685.4,297.0 685.4,298.6 657.6,288.20000000000005" fill="#5a5a5a"/><polygon points="657.6,288.20000000000005 685.4,298.6 685.4,299.8 657.6,289.40000000000003" fill="#151515"/><line x1="672.4" y1="293.2" x2="683.8" y2="297.8" stroke="#2b9be6" stroke-width="2" stroke-linecap="round"/><line x1="673" y1="292.9" x2="683" y2="297.0" stroke="#7fd0ff" stroke-width="0.6"/><polygon points="657.6,295.40000000000003 685.4,305.8 685.4,307.40000000000003 657.6,297.00000000000006" fill="#5a5a5a"/><polygon points="657.6,297.00000000000006 685.4,307.40000000000003 685.4,308.6 657.6,298.20000000000005" fill="#151515"/><line x1="672.4" y1="302.0" x2="683.8" y2="306.6" stroke="#2b9be6" stroke-width="2" stroke-linecap="round"/><line x1="673" y1="301.7" x2="683" y2="305.8" stroke="#7fd0ff" stroke-width="0.6"/><polygon points="657.6,304.20000000000005 685.4,314.6 685.4,316.20000000000005 657.6,305.80000000000007" fill="#5a5a5a"/><polygon points="657.6,305.80000000000007 685.4,316.20000000000005 685.4,317.40000000000003 657.6,307.00000000000006" fill="#151515"/><line x1="672.4" y1="310.8" x2="683.8" y2="315.40000000000003" stroke="#2b9be6" stroke-width="2" stroke-linecap="round"/><line x1="673" y1="310.5" x2="683" y2="314.6" stroke="#7fd0ff" stroke-width="0.6"/><polygon points="657.6,313.0 685.4,323.4 685.4,325.0 657.6,314.6" fill="#5a5a5a"/><polygon points="657.6,314.6 685.4,325.0 685.4,326.2 657.6,315.8" fill="#151515"/><line x1="672.4" y1="319.59999999999997" x2="683.8" y2="324.2" stroke="#2b9be6" stroke-width="2" stroke-linecap="round"/><line x1="673" y1="319.29999999999995" x2="683" y2="323.4" stroke="#7fd0ff" stroke-width="0.6"/><line x1="685.4" y1="288.4" x2="685.4" y2="355" stroke="#5c5c5c" stroke-width="0.7"/></g></g><g filter="url(#b05)"><circle cx="730.8" cy="326.5" r="19" fill="url(#globeG)"/><g clip-path="url(#globeClip)"><path d="M716 315 C720 309 729 307 735 309 C738 312 736 317 731 318 C729 322 733 326 730 330 C726 331 722 326 720 322 C716 321 714 318 716 315 Z" fill="#7ccb45"/><path d="M731 331 C736 329 743 332 744 337 C744 342 739 346 735 345 C732 341 733 336 731 331 Z" fill="#7ccb45"/><path d="M739 311 C744 311 748 316 748 320 C744 320 740 316 739 311 Z" fill="#8fd65a"/><g fill="none" stroke="#ffffff" stroke-width="0.7" opacity="0.85"><ellipse cx="730.8" cy="326.5" rx="4" ry="19" transform="rotate(-18 730.8 326.5)"/><ellipse cx="730.8" cy="326.5" rx="9.5" ry="19" transform="rotate(-18 730.8 326.5)"/><ellipse cx="730.8" cy="326.5" rx="14.5" ry="19" transform="rotate(-18 730.8 326.5)"/><path d="M711.5 310.5 Q730.8 319.5 750 307.5"/><path d="M711.5 316.5 Q730.8 325.5 750 313.5"/><path d="M711.5 322.5 Q730.8 331.5 750 319.5"/><path d="M711.5 328.5 Q730.8 337.5 750 325.5"/><path d="M711.5 334.5 Q730.8 343.5 750 331.5"/></g></g></g><g filter="url(#b05)"><path d="M804.2 320.5 V348.4 A12.8 6.6 0 0 0 829.8 348.4 V320.5 Z" fill="url(#cylSide)"/><ellipse cx="817" cy="320.5" rx="12.8" ry="6.6" fill="#e4e9f9"/><ellipse cx="817" cy="320.5" rx="12.8" ry="6.6" fill="none" stroke="#c0c9ea" stroke-width="0.6"/></g><rect x="681" y="368" width="1.6" height="7.6" fill="#3a3a3a" filter="url(#b03)"/><text class="serif" x="695.8" y="369.8" font-size="12" font-weight="bold" fill="#2f3338" letter-spacing="0.25" filter="url(#b05)">云端总部服务中心</text></g><g><line x1="77" y1="29.5" x2="300.3" y2="29.5" stroke="#8aa4c8" stroke-width="1.2"/><line x1="300.3" y1="29" x2="300.3" y2="200" stroke="#9dbbe0" stroke-width="1.2"/><line x1="300.3" y1="247" x2="300.3" y2="417" stroke="#9dbbe0" stroke-width="1.2"/><line x1="300.3" y1="469" x2="300.3" y2="642" stroke="#9dbbe0" stroke-width="1.2"/><line x1="300.3" y1="114" x2="395.4" y2="114" stroke="#8db8e6" stroke-width="1.05"/><line x1="300.3" y1="324" x2="401" y2="324" stroke="#8db8e6" stroke-width="1.05"/><line x1="300.3" y1="558" x2="391" y2="558" stroke="#8db8e6" stroke-width="1.05"/><line x1="445.2" y1="116" x2="537.8" y2="116" stroke="#8db8e6" stroke-width="1.05"/><line x1="537.8" y1="115.3" x2="537.8" y2="566.5" stroke="#8db8e6" stroke-width="1.05"/><line x1="445.7" y1="565.8" x2="537.8" y2="565.8" stroke="#8db8e6" stroke-width="1.05"/><line x1="462" y1="323" x2="590" y2="323" stroke="#8db8e6" stroke-width="1.05"/><line x1="836.1" y1="127.4" x2="836.1" y2="252" stroke="#8db8e6" stroke-width="1.05"/><line x1="836.1" y1="128.1" x2="934" y2="128.1" stroke="#8db8e6" stroke-width="1.05"/><line x1="831.5" y1="351" x2="831.5" y2="560.8" stroke="#8db8e6" stroke-width="1.05"/><line x1="848.8" y1="349" x2="1005.6" y2="349" stroke="#8db8e6" stroke-width="1.05"/><line x1="831.5" y1="560.1" x2="1009.3" y2="560.1" stroke="#8db8e6" stroke-width="1.05"/><line x1="73" y1="417.4" x2="300" y2="417.4" stroke="#8e8e8e" stroke-width="0.9" stroke-dasharray="14 3 30 2 9 4"/><line x1="73" y1="642.6" x2="300" y2="642.6" stroke="#8e8e8e" stroke-width="0.9" stroke-dasharray="22 3 12 2 40 4"/><rect x="170" y="424.4" width="2.2" height="0.9" fill="#9a9a9a"/><rect x="171" y="654.4" width="2.4" height="0.9" fill="#9a9a9a"/></g><g><rect x="926" y="24" width="317" height="203" fill="#fdfdfc"/><line x1="1237" y1="117" x2="1243.5" y2="117" stroke="#8f8f8f" stroke-width="0.7"/><rect x="934.2" y="30.6" width="303" height="173" fill="url(#dsBg)"/><g clip-path="url(#dsClip)"><g filter="url(#b05)"><line x1="1004.96" y1="30.6" x2="1004.96" y2="203.6" stroke="#1a3272" stroke-width="0.4" opacity="0.6"/><line x1="1084.93" y1="30.6" x2="1084.93" y2="203.6" stroke="#1a3272" stroke-width="0.4" opacity="0.6"/><line x1="1158.74" y1="30.6" x2="1158.74" y2="203.6" stroke="#1a3272" stroke-width="0.4" opacity="0.6"/><line x1="934" y1="92.74" x2="1237" y2="92.74" stroke="#1a3272" stroke-width="0.4" opacity="0.5"/><line x1="934" y1="151.17" x2="1237" y2="151.17" stroke="#1a3272" stroke-width="0.4" opacity="0.5"/><text x="1086.46" y="39.84" text-anchor="middle" font-size="7.8" fill="#cfdcf0" letter-spacing="0">智慧水务城市大数据监控平台</text><text x="936.69" y="39.84" font-size="5.6" fill="#9ec3ef">2019年12月08日 16:05</text><circle cx="1177.19" cy="36.76" r="2.3" fill="#3f86e0"/><circle cx="1191.03" cy="36.76" r="2.3" fill="#5aa0f0"/><circle cx="1203.33" cy="36.76" r="2.3" fill="#4a90e6"/><text x="1209.48" y="38.92" font-size="4.6" fill="#a9c4ea">admin ⌄</text><rect x="939.76" y="46.6" width="39.98" height="6.46" fill="#123680" opacity="0.85"/><text x="941.61" y="51.83" font-size="4.6" fill="#bfe0ff">近期各区水费统计</text><rect x="939.76" y="101.04" width="31.99" height="6.15" fill="#123680" opacity="0.85"/><text x="941.61" y="105.96" font-size="4.6" fill="#bfe0ff">近期水费充值</text><rect x="939.76" y="153.32" width="39.98" height="6.15" fill="#123680" opacity="0.85"/><text x="941.61" y="158.24" font-size="4.6" fill="#bfe0ff">近期各区缴费情况</text><rect x="1161.81" y="46.6" width="36.29" height="6.46" fill="#123680" opacity="0.85"/><text x="1163.66" y="51.83" font-size="4.6" fill="#bfe0ff">各营业所缴费统计</text><rect x="1161.81" y="101.04" width="25.22" height="6.15" fill="#123680" opacity="0.85"/><text x="1163.66" y="105.96" font-size="4.6" fill="#bfe0ff">用水量统计</text><rect x="1161.81" y="153.32" width="36.29" height="6.15" fill="#123680" opacity="0.85"/><text x="1163.66" y="158.24" font-size="4.6" fill="#bfe0ff">近期水量变化情况</text><rect x="937.3" y="55.22" width="76.89" height="42.13" fill="none" stroke="#1b3576" stroke-width="0.4" opacity="0.8"/><rect x="937.3" y="109.04" width="76.89" height="40.60" fill="none" stroke="#1b3576" stroke-width="0.4" opacity="0.8"/><rect x="937.3" y="161.94" width="76.89" height="39.98" fill="none" stroke="#1b3576" stroke-width="0.4" opacity="0.8"/><rect x="1159.35" y="55.22" width="75.66" height="42.13" fill="none" stroke="#1b3576" stroke-width="0.4" opacity="0.8"/><rect x="1159.35" y="109.04" width="75.66" height="40.60" fill="none" stroke="#1b3576" stroke-width="0.4" opacity="0.8"/><rect x="1158.12" y="161.94" width="76.89" height="39.98" fill="none" stroke="#1b3576" stroke-width="0.4" opacity="0.8"/><line x1="944.07" y1="60.44" x2="950.22" y2="60.44" stroke="#c9d8f2" stroke-width="1.4" stroke-dasharray="1.7 0.45" opacity="0.7"/><line x1="962.52" y1="60.44" x2="982.2" y2="60.44" stroke="#c9d8f2" stroke-width="1.4" stroke-dasharray="1.7 0.45" opacity="0.7"/><line x1="993.28" y1="60.44" x2="1008.04" y2="60.44" stroke="#c9d8f2" stroke-width="1.4" stroke-dasharray="1.7 0.45" opacity="0.7"/><rect x="938.84" y="63.38" width="73.81" height="5.2" fill="#17306e" opacity="0.8"/><line x1="943.21" y1="65.98" x2="950.77" y2="65.98" stroke="#eef3fb" stroke-width="1.5" stroke-dasharray="1.7 0.45" opacity="0.7"/><line x1="965.77" y1="65.98" x2="982.14" y2="65.98" stroke="#e08a2c" stroke-width="1.5" stroke-dasharray="1.7 0.45" opacity="0.7"/><line x1="997.25" y1="65.98" x2="1005.34" y2="65.98" stroke="#2fae6d" stroke-width="1.5" stroke-dasharray="1.7 0.45" opacity="0.7"/><line x1="944.09" y1="71.21" x2="951.0" y2="71.21" stroke="#eef3fb" stroke-width="1.5" stroke-dasharray="1.7 0.45" opacity="0.7"/><line x1="966.66" y1="71.21" x2="981.52" y2="71.21" stroke="#e08a2c" stroke-width="1.5" stroke-dasharray="1.7 0.45" opacity="0.7"/><line x1="996.57" y1="71.21" x2="1003.51" y2="71.21" stroke="#2fae6d" stroke-width="1.5" stroke-dasharray="1.7 0.45" opacity="0.7"/><rect x="938.84" y="74.14" width="73.81" height="5.2" fill="#17306e" opacity="0.8"/><line x1="944.87" y1="76.74" x2="952.68" y2="76.74" stroke="#eef3fb" stroke-width="1.5" stroke-dasharray="1.7 0.45" opacity="0.7"/><line x1="966.15" y1="76.74" x2="981.21" y2="76.74" stroke="#e08a2c" stroke-width="1.5" stroke-dasharray="1.7 0.45" opacity="0.7"/><line x1="998.68" y1="76.74" x2="1006.99" y2="76.74" stroke="#2fae6d" stroke-width="1.5" stroke-dasharray="1.7 0.45" opacity="0.7"/><line x1="943.81" y1="82.28" x2="952.0" y2="82.28" stroke="#eef3fb" stroke-width="1.5" stroke-dasharray="1.7 0.45" opacity="0.7"/><line x1="965.71" y1="82.28" x2="982.88" y2="82.28" stroke="#e08a2c" stroke-width="1.5" stroke-dasharray="1.7 0.45" opacity="0.7"/><line x1="997.06" y1="82.28" x2="1005.94" y2="82.28" stroke="#2fae6d" stroke-width="1.5" stroke-dasharray="1.7 0.45" opacity="0.7"/><rect x="938.84" y="85.22" width="73.81" height="5.2" fill="#17306e" opacity="0.8"/><line x1="943.13" y1="87.82" x2="950.25" y2="87.82" stroke="#eef3fb" stroke-width="1.5" stroke-dasharray="1.7 0.45" opacity="0.7"/><line x1="967.6" y1="87.82" x2="983.13" y2="87.82" stroke="#e08a2c" stroke-width="1.5" stroke-dasharray="1.7 0.45" opacity="0.7"/><line x1="997.78" y1="87.82" x2="1004.99" y2="87.82" stroke="#2fae6d" stroke-width="1.5" stroke-dasharray="1.7 0.45" opacity="0.7"/><line x1="943.75" y1="93.35" x2="952.09" y2="93.35" stroke="#eef3fb" stroke-width="1.5" stroke-dasharray="1.7 0.45" opacity="0.7"/><line x1="965.75" y1="93.35" x2="981.86" y2="93.35" stroke="#e08a2c" stroke-width="1.5" stroke-dasharray="1.7 0.45" opacity="0.7"/><line x1="996.86" y1="93.35" x2="1003.77" y2="93.35" stroke="#2fae6d" stroke-width="1.5" stroke-dasharray="1.7 0.45" opacity="0.7"/><line x1="940.38" y1="113.65" x2="948.99" y2="113.65" stroke="#c9d8f2" stroke-width="1.4" stroke-dasharray="1.7 0.45" opacity="0.7"/><line x1="954.22" y1="113.65" x2="963.44" y2="113.65" stroke="#c9d8f2" stroke-width="1.4" stroke-dasharray="1.7 0.45" opacity="0.7"/><line x1="971.13" y1="113.65" x2="988.05" y2="113.65" stroke="#c9d8f2" stroke-width="1.4" stroke-dasharray="1.7 0.45" opacity="0.7"/><line x1="994.2" y1="113.65" x2="1001.89" y2="113.65" stroke="#c9d8f2" stroke-width="1.4" stroke-dasharray="1.7 0.45" opacity="0.7"/><line x1="1005.58" y1="113.65" x2="1011.73" y2="113.65" stroke="#c9d8f2" stroke-width="1.4" stroke-dasharray="1.7 0.45" opacity="0.7"/><rect x="938.84" y="117.20" width="73.81" height="5.2" fill="#17306e" opacity="0.8"/><line x1="941.43" y1="119.8" x2="949.25" y2="119.8" stroke="#eef3fb" stroke-width="1.5" stroke-dasharray="1.7 0.45" opacity="0.7"/><line x1="955.66" y1="119.8" x2="964.12" y2="119.8" stroke="#dfe7f5" stroke-width="1.5" stroke-dasharray="1.7 0.45" opacity="0.7"/><line x1="971.87" y1="119.8" x2="986.21" y2="119.8" stroke="#dfe7f5" stroke-width="1.5" stroke-dasharray="1.7 0.45" opacity="0.7"/><line x1="995.92" y1="119.8" x2="1011.71" y2="119.8" stroke="#f2f5fb" stroke-width="1.5" stroke-dasharray="1.7 0.45" opacity="0.7"/><line x1="941.79" y1="125.34" x2="948.54" y2="125.34" stroke="#eef3fb" stroke-width="1.5" stroke-dasharray="1.7 0.45" opacity="0.7"/><line x1="956.37" y1="125.34" x2="965.35" y2="125.34" stroke="#dfe7f5" stroke-width="1.5" stroke-dasharray="1.7 0.45" opacity="0.7"/><line x1="971.84" y1="125.34" x2="986.86" y2="125.34" stroke="#dfe7f5" stroke-width="1.5" stroke-dasharray="1.7 0.45" opacity="0.7"/><line x1="994.49" y1="125.34" x2="1010.74" y2="125.34" stroke="#f2f5fb" stroke-width="1.5" stroke-dasharray="1.7 0.45" opacity="0.7"/><rect x="938.84" y="127.66" width="73.81" height="5.2" fill="#17306e" opacity="0.8"/><line x1="942.24" y1="130.26" x2="949.42" y2="130.26" stroke="#eef3fb" stroke-width="1.5" stroke-dasharray="1.7 0.45" opacity="0.7"/><line x1="955.42" y1="130.26" x2="963.48" y2="130.26" stroke="#dfe7f5" stroke-width="1.5" stroke-dasharray="1.7 0.45" opacity="0.7"/><line x1="972.78" y1="130.26" x2="986.1" y2="130.26" stroke="#dfe7f5" stroke-width="1.5" stroke-dasharray="1.7 0.45" opacity="0.7"/><line x1="995.61" y1="130.26" x2="1011.33" y2="130.26" stroke="#f2f5fb" stroke-width="1.5" stroke-dasharray="1.7 0.45" opacity="0.7"/><line x1="941.15" y1="135.79" x2="949.45" y2="135.79" stroke="#eef3fb" stroke-width="1.5" stroke-dasharray="1.7 0.45" opacity="0.7"/><line x1="955.68" y1="135.79" x2="965.08" y2="135.79" stroke="#dfe7f5" stroke-width="1.5" stroke-dasharray="1.7 0.45" opacity="0.7"/><line x1="972.26" y1="135.79" x2="986.91" y2="135.79" stroke="#dfe7f5" stroke-width="1.5" stroke-dasharray="1.7 0.45" opacity="0.7"/><line x1="996.52" y1="135.79" x2="1012.43" y2="135.79" stroke="#f2f5fb" stroke-width="1.5" stroke-dasharray="1.7 0.45" opacity="0.7"/><rect x="938.84" y="138.73" width="73.81" height="5.2" fill="#17306e" opacity="0.8"/><line x1="942.01" y1="141.33" x2="949.33" y2="141.33" stroke="#eef3fb" stroke-width="1.5" stroke-dasharray="1.7 0.45" opacity="0.7"/><line x1="955.94" y1="141.33" x2="963.78" y2="141.33" stroke="#dfe7f5" stroke-width="1.5" stroke-dasharray="1.7 0.45" opacity="0.7"/><line x1="973.58" y1="141.33" x2="988.39" y2="141.33" stroke="#dfe7f5" stroke-width="1.5" stroke-dasharray="1.7 0.45" opacity="0.7"/><line x1="994.9" y1="141.33" x2="1010.76" y2="141.33" stroke="#f2f5fb" stroke-width="1.5" stroke-dasharray="1.7 0.45" opacity="0.7"/><line x1="942.02" y1="146.56" x2="949.12" y2="146.56" stroke="#eef3fb" stroke-width="1.5" stroke-dasharray="1.7 0.45" opacity="0.7"/><line x1="955.35" y1="146.56" x2="963.1" y2="146.56" stroke="#dfe7f5" stroke-width="1.5" stroke-dasharray="1.7 0.45" opacity="0.7"/><line x1="971.42" y1="146.56" x2="985.06" y2="146.56" stroke="#dfe7f5" stroke-width="1.5" stroke-dasharray="1.7 0.45" opacity="0.7"/><line x1="996.09" y1="146.56" x2="1010.07" y2="146.56" stroke="#f2f5fb" stroke-width="1.5" stroke-dasharray="1.7 0.45" opacity="0.7"/><line x1="1162.43" y1="60.44" x2="1177.81" y2="60.44" stroke="#c9d8f2" stroke-width="1.4" stroke-dasharray="1.7 0.45" opacity="0.7"/><line x1="1189.49" y1="60.44" x2="1195.64" y2="60.44" stroke="#c9d8f2" stroke-width="1.4" stroke-dasharray="1.7 0.45" opacity="0.7"/><line x1="1206.41" y1="60.44" x2="1229.47" y2="60.44" stroke="#c9d8f2" stroke-width="1.4" stroke-dasharray="1.7 0.45" opacity="0.7"/><rect x="1160.28" y="63.38" width="73.81" height="5.2" fill="#17306e" opacity="0.8"/><line x1="1163.96" y1="65.98" x2="1175.04" y2="65.98" stroke="#eef3fb" stroke-width="1.5" stroke-dasharray="1.7 0.45" opacity="0.7"/><line x1="1191.02" y1="65.98" x2="1195.67" y2="65.98" stroke="#2fae6d" stroke-width="1.5" stroke-dasharray="1.7 0.45" opacity="0.7"/><line x1="1208.44" y1="65.98" x2="1227.7" y2="65.98" stroke="#e0922c" stroke-width="1.5" stroke-dasharray="1.7 0.45" opacity="0.7"/><line x1="1165.53" y1="71.21" x2="1177.64" y2="71.21" stroke="#eef3fb" stroke-width="1.5" stroke-dasharray="1.7 0.45" opacity="0.7"/><line x1="1191.0" y1="71.21" x2="1196.71" y2="71.21" stroke="#2fae6d" stroke-width="1.5" stroke-dasharray="1.7 0.45" opacity="0.7"/><line x1="1208.35" y1="71.21" x2="1228.11" y2="71.21" stroke="#e0922c" stroke-width="1.5" stroke-dasharray="1.7 0.45" opacity="0.7"/><rect x="1160.28" y="74.14" width="73.81" height="5.2" fill="#17306e" opacity="0.8"/><line x1="1165.53" y1="76.74" x2="1177.17" y2="76.74" stroke="#eef3fb" stroke-width="1.5" stroke-dasharray="1.7 0.45" opacity="0.7"/><line x1="1189.25" y1="76.74" x2="1195.3" y2="76.74" stroke="#2fae6d" stroke-width="1.5" stroke-dasharray="1.7 0.45" opacity="0.7"/><line x1="1207.9" y1="76.74" x2="1227.4" y2="76.74" stroke="#e0922c" stroke-width="1.5" stroke-dasharray="1.7 0.45" opacity="0.7"/><line x1="1164.54" y1="82.28" x2="1175.88" y2="82.28" stroke="#eef3fb" stroke-width="1.5" stroke-dasharray="1.7 0.45" opacity="0.7"/><line x1="1189.52" y1="82.28" x2="1194.66" y2="82.28" stroke="#2fae6d" stroke-width="1.5" stroke-dasharray="1.7 0.45" opacity="0.7"/><line x1="1208.36" y1="82.28" x2="1227.44" y2="82.28" stroke="#e0922c" stroke-width="1.5" stroke-dasharray="1.7 0.45" opacity="0.7"/><rect x="1160.28" y="85.22" width="73.81" height="5.2" fill="#17306e" opacity="0.8"/><line x1="1164.74" y1="87.82" x2="1176.42" y2="87.82" stroke="#eef3fb" stroke-width="1.5" stroke-dasharray="1.7 0.45" opacity="0.7"/><line x1="1190.58" y1="87.82" x2="1196.61" y2="87.82" stroke="#2fae6d" stroke-width="1.5" stroke-dasharray="1.7 0.45" opacity="0.7"/><line x1="1208.85" y1="87.82" x2="1229.19" y2="87.82" stroke="#e0922c" stroke-width="1.5" stroke-dasharray="1.7 0.45" opacity="0.7"/><line x1="1163.48" y1="93.35" x2="1175.91" y2="93.35" stroke="#eef3fb" stroke-width="1.5" stroke-dasharray="1.7 0.45" opacity="0.7"/><line x1="1190.8" y1="93.35" x2="1196.7" y2="93.35" stroke="#2fae6d" stroke-width="1.5" stroke-dasharray="1.7 0.45" opacity="0.7"/><line x1="1209.29" y1="93.35" x2="1230.51" y2="93.35" stroke="#e0922c" stroke-width="1.5" stroke-dasharray="1.7 0.45" opacity="0.7"/><line x1="1163.35" y1="113.65" x2="1171.04" y2="113.65" stroke="#c9d8f2" stroke-width="1.4" stroke-dasharray="1.7 0.45" opacity="0.7"/><line x1="1177.19" y1="113.65" x2="1186.42" y2="113.65" stroke="#c9d8f2" stroke-width="1.4" stroke-dasharray="1.7 0.45" opacity="0.7"/><line x1="1191.95" y1="113.65" x2="1203.33" y2="113.65" stroke="#c9d8f2" stroke-width="1.4" stroke-dasharray="1.7 0.45" opacity="0.7"/><line x1="1211.02" y1="113.65" x2="1227.94" y2="113.65" stroke="#c9d8f2" stroke-width="1.4" stroke-dasharray="1.7 0.45" opacity="0.7"/><rect x="1160.28" y="117.20" width="73.81" height="5.2" fill="#17306e" opacity="0.8"/><line x1="1164.33" y1="119.8" x2="1171.76" y2="119.8" stroke="#eef3fb" stroke-width="1.5" stroke-dasharray="1.7 0.45" opacity="0.7"/><line x1="1178.75" y1="119.8" x2="1187.0" y2="119.8" stroke="#dfe7f5" stroke-width="1.5" stroke-dasharray="1.7 0.45" opacity="0.7"/><line x1="1193.35" y1="119.8" x2="1197.19" y2="119.8" stroke="#d8672c" stroke-width="1.5" stroke-dasharray="1.7 0.45" opacity="0.7"/><line x1="1213.88" y1="119.8" x2="1219.93" y2="119.8" stroke="#f2f5fb" stroke-width="1.5" stroke-dasharray="1.7 0.45" opacity="0.7"/><line x1="1163.48" y1="125.34" x2="1170.78" y2="125.34" stroke="#eef3fb" stroke-width="1.5" stroke-dasharray="1.7 0.45" opacity="0.7"/><line x1="1177.56" y1="125.34" x2="1185.56" y2="125.34" stroke="#dfe7f5" stroke-width="1.5" stroke-dasharray="1.7 0.45" opacity="0.7"/><line x1="1194.08" y1="125.34" x2="1198.02" y2="125.34" stroke="#d8672c" stroke-width="1.5" stroke-dasharray="1.7 0.45" opacity="0.7"/><line x1="1215.63" y1="125.34" x2="1221.23" y2="125.34" stroke="#f2f5fb" stroke-width="1.5" stroke-dasharray="1.7 0.45" opacity="0.7"/><rect x="1160.28" y="127.66" width="73.81" height="5.2" fill="#17306e" opacity="0.8"/><line x1="1163.72" y1="130.26" x2="1171.69" y2="130.26" stroke="#eef3fb" stroke-width="1.5" stroke-dasharray="1.7 0.45" opacity="0.7"/><line x1="1178.05" y1="130.26" x2="1186.66" y2="130.26" stroke="#dfe7f5" stroke-width="1.5" stroke-dasharray="1.7 0.45" opacity="0.7"/><line x1="1193.49" y1="130.26" x2="1198.07" y2="130.26" stroke="#d8672c" stroke-width="1.5" stroke-dasharray="1.7 0.45" opacity="0.7"/><line x1="1215.93" y1="130.26" x2="1223.55" y2="130.26" stroke="#f2f5fb" stroke-width="1.5" stroke-dasharray="1.7 0.45" opacity="0.7"/><line x1="1164.54" y1="135.79" x2="1172.15" y2="135.79" stroke="#eef3fb" stroke-width="1.5" stroke-dasharray="1.7 0.45" opacity="0.7"/><line x1="1177.44" y1="135.79" x2="1185.65" y2="135.79" stroke="#dfe7f5" stroke-width="1.5" stroke-dasharray="1.7 0.45" opacity="0.7"/><line x1="1193.84" y1="135.79" x2="1198.37" y2="135.79" stroke="#d8672c" stroke-width="1.5" stroke-dasharray="1.7 0.45" opacity="0.7"/><line x1="1213.88" y1="135.79" x2="1221.45" y2="135.79" stroke="#f2f5fb" stroke-width="1.5" stroke-dasharray="1.7 0.45" opacity="0.7"/><rect x="1160.28" y="138.73" width="73.81" height="5.2" fill="#17306e" opacity="0.8"/><line x1="1165.69" y1="141.33" x2="1172.21" y2="141.33" stroke="#eef3fb" stroke-width="1.5" stroke-dasharray="1.7 0.45" opacity="0.7"/><line x1="1177.55" y1="141.33" x2="1186.85" y2="141.33" stroke="#dfe7f5" stroke-width="1.5" stroke-dasharray="1.7 0.45" opacity="0.7"/><line x1="1193.25" y1="141.33" x2="1198.28" y2="141.33" stroke="#d8672c" stroke-width="1.5" stroke-dasharray="1.7 0.45" opacity="0.7"/><line x1="1215.89" y1="141.33" x2="1222.73" y2="141.33" stroke="#f2f5fb" stroke-width="1.5" stroke-dasharray="1.7 0.45" opacity="0.7"/><line x1="1165.06" y1="146.56" x2="1173.65" y2="146.56" stroke="#eef3fb" stroke-width="1.5" stroke-dasharray="1.7 0.45" opacity="0.7"/><line x1="1178.09" y1="146.56" x2="1186.73" y2="146.56" stroke="#dfe7f5" stroke-width="1.5" stroke-dasharray="1.7 0.45" opacity="0.7"/><line x1="1195.08" y1="146.56" x2="1199.18" y2="146.56" stroke="#d8672c" stroke-width="1.5" stroke-dasharray="1.7 0.45" opacity="0.7"/><line x1="1215.4" y1="146.56" x2="1222.25" y2="146.56" stroke="#f2f5fb" stroke-width="1.5" stroke-dasharray="1.7 0.45" opacity="0.7"/><text x="1020.96" y="60.14" font-size="3.8" fill="#b9c9e6">本月水费总收入</text><text x="1017.27" y="69.06" font-size="6.6" font-weight="bold" fill="#58b2f2">86485.35<tspan font-size="3.6" dx="2" fill="#7fb6e8">万元</tspan></text><text x="1070.16" y="60.14" font-size="3.8" fill="#b9c9e6">本月水费实收</text><text x="1066.47" y="69.06" font-size="6.6" font-weight="bold" fill="#58b2f2">63548.27<tspan font-size="3.6" dx="2" fill="#7fb6e8">万元</tspan></text><text x="1116.91" y="60.14" font-size="3.8" fill="#b9c9e6">年度水费总收入</text><text x="1113.22" y="69.06" font-size="6.6" font-weight="bold" fill="#58b2f2">234571.68<tspan font-size="3.6" dx="2" fill="#7fb6e8">万元</tspan></text></g><g fill="#2b57f0" opacity="0.38" filter="url(#b2)"><polygon points="1015.50,100.79 1020.41,98.36 1026.97,98.84 1033.11,98.84 1039.25,99.82 1045.39,97.87 1050.72,97.38 1052.35,99.82 1057.68,103.71 1061.36,107.61 1057.27,111.01 1055.63,112.47 1053.17,115.88 1051.12,117.83 1051.53,120.75 1050.31,118.80 1047.44,118.80 1044.57,120.26 1044.57,123.19 1046.62,124.16 1048.26,122.70 1048.67,125.13 1050.31,128.05 1052.35,129.03 1051.53,129.51 1049.49,127.57 1046.62,126.11 1044.98,125.13 1041.30,123.19 1039.25,121.24 1038.02,118.32 1036.38,116.86 1034.34,114.91 1033.52,112.47 1033.52,109.55 1031.06,106.63 1027.78,104.20 1022.87,103.71 1019.59,105.17 1016.73,103.71"/><polygon points="1061.77,103.71 1066.69,103.71 1074.06,98.84 1076.10,95.92 1072.01,93.00 1063.82,93.00 1056.45,94.95 1061.77,98.84"/><polygon points="1052.35,129.03 1054.81,127.08 1058.91,128.05 1063.00,130.49 1063.82,132.92 1068.73,135.36 1069.96,136.82 1068.32,140.23 1067.09,144.12 1064.64,146.07 1062.18,149.48 1060.54,151.42 1057.68,153.37 1056.45,157.27 1054.81,158.73 1053.58,156.29 1054.40,151.42 1055.22,147.53 1055.63,141.69 1053.17,139.25 1051.12,135.36 1051.53,132.92"/><polygon points="1080.61,114.91 1080.61,111.99 1083.47,111.50 1082.66,109.55 1085.11,108.09 1087.57,106.63 1087.57,105.17 1086.34,103.71 1086.75,102.25 1090.03,99.82 1094.53,98.36 1096.58,98.84 1100.67,100.30 1102.31,100.79 1108.86,99.82 1108.86,106.15 1104.77,110.04 1100.67,110.04 1099.85,111.50 1096.58,111.01 1095.76,112.96 1094.12,114.42 1093.30,114.91 1092.48,113.45 1090.44,114.42 1090.84,112.96 1089.21,111.50 1087.57,111.50 1085.52,111.99 1084.29,113.94 1082.25,115.40"/><polygon points="1077.33,125.62 1077.74,122.70 1080.20,119.29 1081.84,115.88 1088.39,114.91 1088.80,116.86 1092.48,117.34 1094.53,117.83 1097.81,117.83 1098.62,121.24 1099.85,124.16 1101.90,127.08 1105.18,127.08 1103.95,130.49 1101.49,133.90 1100.26,136.82 1100.67,140.23 1098.62,143.63 1097.40,146.55 1095.35,149.48 1092.07,149.96 1090.84,146.55 1089.21,141.20 1089.62,136.82 1087.98,133.41 1087.98,130.98 1085.93,130.00 1082.66,130.49 1081.02,130.98 1078.97,129.03"/><polygon points="1108.86,99.82 1112.96,97.38 1119.10,96.89 1125.24,94.95 1130.16,95.92 1137.53,97.87 1145.72,98.36 1153.91,98.84 1158.00,100.30 1157.18,102.25 1151.86,103.71 1149.81,106.63 1148.17,108.09 1147.76,104.68 1142.85,104.20 1141.62,106.63 1139.57,111.01 1137.53,112.47 1136.30,114.42 1135.89,115.88 1134.25,113.94 1132.61,114.42 1133.84,117.83 1133.43,120.26 1130.97,122.21 1128.52,122.70 1127.70,124.16 1128.93,127.08 1127.29,128.54 1125.24,126.59 1124.83,129.03 1126.47,131.95 1124.42,129.03 1124.01,125.13 1122.78,124.65 1121.15,122.21 1119.51,123.19 1117.05,125.62 1116.23,129.03 1114.19,125.13 1113.78,122.70 1111.73,120.75 1108.04,120.75 1107.63,123.19 1105.59,125.13 1102.31,126.59 1101.90,124.65 1100.26,122.70 1098.62,119.29 1099.03,115.40 1095.76,114.91 1095.76,112.96 1099.85,111.50 1100.67,110.04 1104.77,110.04 1108.86,106.15"/><polygon points="1123.60,130.49 1126.88,135.36 1130.97,136.82 1133.43,137.30 1135.48,136.82 1132.61,134.87 1132.20,130.98 1129.34,131.95 1126.88,132.44"/><polygon points="1138.34,133.90 1141.62,134.38 1145.72,136.82 1143.67,136.82 1139.57,135.36"/><polygon points="1137.53,117.34 1139.57,116.37 1141.62,115.40 1142.44,113.45 1142.03,111.50 1143.26,111.50 1142.03,114.42 1140.39,115.88"/><polygon points="1133.43,124.16 1134.25,126.11 1135.48,129.03 1134.25,128.54 1133.43,126.59"/><polygon points="1130.97,143.63 1134.25,141.20 1137.53,138.76 1140.39,138.76 1139.98,140.71 1142.03,139.25 1144.08,142.17 1146.94,145.58 1146.12,149.48 1144.08,151.91 1141.62,151.42 1139.57,149.48 1137.12,148.50 1134.66,149.48 1131.38,149.48 1130.97,146.07"/><polygon points="1155.13,149.96 1157.18,151.42 1155.95,152.88 1154.72,152.88 1152.68,155.32 1154.31,153.86"/><polygon points="1104.36,138.76 1104.77,141.20 1103.54,145.09 1102.31,144.12 1102.31,141.20"/><polygon points="1082.25,108.58 1084.70,108.09 1084.29,106.63 1083.47,105.17 1082.25,104.68 1081.84,106.15 1083.06,107.12"/><polygon points="1074.47,101.28 1078.56,101.28 1078.15,100.55 1075.28,100.55"/></g><g fill="#1f40c8" opacity="0.72" stroke="#1f40c8" stroke-width="0.5" stroke-linejoin="round" filter="url(#b08)"><polygon points="1015.50,100.79 1020.41,98.36 1026.97,98.84 1033.11,98.84 1039.25,99.82 1045.39,97.87 1050.72,97.38 1052.35,99.82 1057.68,103.71 1061.36,107.61 1057.27,111.01 1055.63,112.47 1053.17,115.88 1051.12,117.83 1051.53,120.75 1050.31,118.80 1047.44,118.80 1044.57,120.26 1044.57,123.19 1046.62,124.16 1048.26,122.70 1048.67,125.13 1050.31,128.05 1052.35,129.03 1051.53,129.51 1049.49,127.57 1046.62,126.11 1044.98,125.13 1041.30,123.19 1039.25,121.24 1038.02,118.32 1036.38,116.86 1034.34,114.91 1033.52,112.47 1033.52,109.55 1031.06,106.63 1027.78,104.20 1022.87,103.71 1019.59,105.17 1016.73,103.71"/><polygon points="1061.77,103.71 1066.69,103.71 1074.06,98.84 1076.10,95.92 1072.01,93.00 1063.82,93.00 1056.45,94.95 1061.77,98.84"/><polygon points="1052.35,129.03 1054.81,127.08 1058.91,128.05 1063.00,130.49 1063.82,132.92 1068.73,135.36 1069.96,136.82 1068.32,140.23 1067.09,144.12 1064.64,146.07 1062.18,149.48 1060.54,151.42 1057.68,153.37 1056.45,157.27 1054.81,158.73 1053.58,156.29 1054.40,151.42 1055.22,147.53 1055.63,141.69 1053.17,139.25 1051.12,135.36 1051.53,132.92"/><polygon points="1080.61,114.91 1080.61,111.99 1083.47,111.50 1082.66,109.55 1085.11,108.09 1087.57,106.63 1087.57,105.17 1086.34,103.71 1086.75,102.25 1090.03,99.82 1094.53,98.36 1096.58,98.84 1100.67,100.30 1102.31,100.79 1108.86,99.82 1108.86,106.15 1104.77,110.04 1100.67,110.04 1099.85,111.50 1096.58,111.01 1095.76,112.96 1094.12,114.42 1093.30,114.91 1092.48,113.45 1090.44,114.42 1090.84,112.96 1089.21,111.50 1087.57,111.50 1085.52,111.99 1084.29,113.94 1082.25,115.40"/><polygon points="1077.33,125.62 1077.74,122.70 1080.20,119.29 1081.84,115.88 1088.39,114.91 1088.80,116.86 1092.48,117.34 1094.53,117.83 1097.81,117.83 1098.62,121.24 1099.85,124.16 1101.90,127.08 1105.18,127.08 1103.95,130.49 1101.49,133.90 1100.26,136.82 1100.67,140.23 1098.62,143.63 1097.40,146.55 1095.35,149.48 1092.07,149.96 1090.84,146.55 1089.21,141.20 1089.62,136.82 1087.98,133.41 1087.98,130.98 1085.93,130.00 1082.66,130.49 1081.02,130.98 1078.97,129.03"/><polygon points="1108.86,99.82 1112.96,97.38 1119.10,96.89 1125.24,94.95 1130.16,95.92 1137.53,97.87 1145.72,98.36 1153.91,98.84 1158.00,100.30 1157.18,102.25 1151.86,103.71 1149.81,106.63 1148.17,108.09 1147.76,104.68 1142.85,104.20 1141.62,106.63 1139.57,111.01 1137.53,112.47 1136.30,114.42 1135.89,115.88 1134.25,113.94 1132.61,114.42 1133.84,117.83 1133.43,120.26 1130.97,122.21 1128.52,122.70 1127.70,124.16 1128.93,127.08 1127.29,128.54 1125.24,126.59 1124.83,129.03 1126.47,131.95 1124.42,129.03 1124.01,125.13 1122.78,124.65 1121.15,122.21 1119.51,123.19 1117.05,125.62 1116.23,129.03 1114.19,125.13 1113.78,122.70 1111.73,120.75 1108.04,120.75 1107.63,123.19 1105.59,125.13 1102.31,126.59 1101.90,124.65 1100.26,122.70 1098.62,119.29 1099.03,115.40 1095.76,114.91 1095.76,112.96 1099.85,111.50 1100.67,110.04 1104.77,110.04 1108.86,106.15"/><polygon points="1123.60,130.49 1126.88,135.36 1130.97,136.82 1133.43,137.30 1135.48,136.82 1132.61,134.87 1132.20,130.98 1129.34,131.95 1126.88,132.44"/><polygon points="1138.34,133.90 1141.62,134.38 1145.72,136.82 1143.67,136.82 1139.57,135.36"/><polygon points="1137.53,117.34 1139.57,116.37 1141.62,115.40 1142.44,113.45 1142.03,111.50 1143.26,111.50 1142.03,114.42 1140.39,115.88"/><polygon points="1133.43,124.16 1134.25,126.11 1135.48,129.03 1134.25,128.54 1133.43,126.59"/><polygon points="1130.97,143.63 1134.25,141.20 1137.53,138.76 1140.39,138.76 1139.98,140.71 1142.03,139.25 1144.08,142.17 1146.94,145.58 1146.12,149.48 1144.08,151.91 1141.62,151.42 1139.57,149.48 1137.12,148.50 1134.66,149.48 1131.38,149.48 1130.97,146.07"/><polygon points="1155.13,149.96 1157.18,151.42 1155.95,152.88 1154.72,152.88 1152.68,155.32 1154.31,153.86"/><polygon points="1104.36,138.76 1104.77,141.20 1103.54,145.09 1102.31,144.12 1102.31,141.20"/><polygon points="1082.25,108.58 1084.70,108.09 1084.29,106.63 1083.47,105.17 1082.25,104.68 1081.84,106.15 1083.06,107.12"/><polygon points="1074.47,101.28 1078.56,101.28 1078.15,100.55 1075.28,100.55"/></g><g filter="url(#b03)"><circle cx="1062.5" cy="145.3" r="1.19" fill="#4f7dff" opacity="0.86"/><circle cx="1130.4" cy="106.7" r="0.81" fill="#4f7dff" opacity="0.76"/><circle cx="1052.4" cy="114.9" r="0.92" fill="#4f7dff" opacity="0.88"/><circle cx="1044.6" cy="119.3" r="1.12" fill="#4f7dff" opacity="0.74"/><circle cx="1108.5" cy="107.9" r="0.47" fill="#dfe9ff" opacity="0.92"/><circle cx="1127.0" cy="111.1" r="0.58" fill="#7fa6ff" opacity="0.88"/><circle cx="1072.7" cy="98.4" r="0.79" fill="#4f7dff" opacity="0.64"/><circle cx="1037.0" cy="101.1" r="0.77" fill="#4f7dff" opacity="0.85"/><circle cx="1133.2" cy="146.0" r="0.63" fill="#7fa6ff" opacity="0.68"/><circle cx="1145.2" cy="136.8" r="0.76" fill="#7fa6ff" opacity="0.92"/><circle cx="1087.0" cy="125.3" r="0.51" fill="#7fa6ff" opacity="0.75"/><circle cx="1083.0" cy="112.7" r="0.65" fill="#7fa6ff" opacity="0.78"/><circle cx="1094.7" cy="108.9" r="0.45" fill="#dfe9ff" opacity="0.69"/><circle cx="1055.0" cy="109.7" r="0.75" fill="#7fa6ff" opacity="0.87"/><circle cx="1080.0" cy="125.2" r="0.92" fill="#7fa6ff" opacity="0.84"/><circle cx="1140.4" cy="98.7" r="0.75" fill="#7fa6ff" opacity="0.93"/><circle cx="1127.2" cy="101.6" r="0.82" fill="#7fa6ff" opacity="0.83"/><circle cx="1035.9" cy="102.5" r="0.81" fill="#4f7dff" opacity="0.89"/><circle cx="1094.5" cy="131.2" r="0.40" fill="#dfe9ff" opacity="0.82"/><circle cx="1094.0" cy="147.4" r="0.92" fill="#7fa6ff" opacity="0.64"/><circle cx="1132.2" cy="131.7" r="0.88" fill="#7fa6ff" opacity="0.74"/><circle cx="1087.7" cy="115.2" r="0.87" fill="#4f7dff" opacity="0.85"/><circle cx="1116.2" cy="118.5" r="0.66" fill="#7fa6ff" opacity="0.62"/><circle cx="1135.4" cy="103.3" r="0.63" fill="#7fa6ff" opacity="0.68"/><circle cx="1057.3" cy="129.9" r="0.70" fill="#7fa6ff" opacity="0.69"/><circle cx="1093.5" cy="143.9" r="0.85" fill="#4f7dff" opacity="0.71"/><circle cx="1083.1" cy="127.1" r="0.73" fill="#7fa6ff" opacity="0.60"/><circle cx="1090.9" cy="111.1" r="0.82" fill="#7fa6ff" opacity="0.91"/><circle cx="1118.7" cy="118.0" r="0.51" fill="#dfe9ff" opacity="0.91"/><circle cx="1104.9" cy="112.2" r="0.77" fill="#4f7dff" opacity="0.76"/><circle cx="1130.2" cy="106.2" r="0.90" fill="#7fa6ff" opacity="0.84"/><circle cx="1105.0" cy="119.2" r="0.72" fill="#7fa6ff" opacity="0.60"/><circle cx="1129.2" cy="111.2" r="0.74" fill="#7fa6ff" opacity="0.83"/><circle cx="1053.3" cy="112.5" r="0.49" fill="#dfe9ff" opacity="0.94"/><circle cx="1124.8" cy="119.7" r="0.53" fill="#7fa6ff" opacity="0.65"/><circle cx="1051.7" cy="111.6" r="0.45" fill="#dfe9ff" opacity="0.60"/><circle cx="1111.3" cy="114.9" r="0.63" fill="#7fa6ff" opacity="0.78"/><circle cx="1081.7" cy="129.5" r="0.53" fill="#dfe9ff" opacity="0.67"/><circle cx="1132.3" cy="97.0" r="0.62" fill="#7fa6ff" opacity="0.67"/><circle cx="1034.4" cy="106.6" r="0.90" fill="#7fa6ff" opacity="0.85"/><circle cx="1048.5" cy="101.6" r="0.51" fill="#7fa6ff" opacity="0.60"/><circle cx="1058.5" cy="150.6" r="0.64" fill="#7fa6ff" opacity="0.89"/><circle cx="1054.7" cy="156.6" r="0.51" fill="#dfe9ff" opacity="0.70"/><circle cx="1151.8" cy="102.4" r="1.02" fill="#4f7dff" opacity="0.87"/><circle cx="1122.8" cy="118.0" r="0.33" fill="#dfe9ff" opacity="0.92"/><circle cx="1064.5" cy="140.4" r="1.19" fill="#4f7dff" opacity="0.68"/><circle cx="1094.9" cy="134.2" r="0.57" fill="#7fa6ff" opacity="0.67"/><circle cx="1046.9" cy="101.0" r="0.92" fill="#4f7dff" opacity="0.64"/><circle cx="1096.7" cy="102.2" r="0.91" fill="#4f7dff" opacity="0.72"/><circle cx="1090.2" cy="135.3" r="0.53" fill="#7fa6ff" opacity="0.70"/><circle cx="1087.2" cy="118.9" r="0.81" fill="#4f7dff" opacity="0.68"/><circle cx="1136.4" cy="103.2" r="0.33" fill="#dfe9ff" opacity="0.85"/><circle cx="1071.3" cy="99.7" r="1.13" fill="#4f7dff" opacity="0.89"/><circle cx="1112.7" cy="98.7" r="1.02" fill="#4f7dff" opacity="0.83"/><circle cx="1080.7" cy="124.0" r="0.50" fill="#dfe9ff" opacity="0.68"/><circle cx="1058.8" cy="151.4" r="0.79" fill="#7fa6ff" opacity="0.84"/><circle cx="1090.2" cy="122.0" r="0.60" fill="#7fa6ff" opacity="0.81"/><circle cx="1107.4" cy="102.5" r="0.61" fill="#7fa6ff" opacity="0.69"/><circle cx="1086.5" cy="116.0" r="0.62" fill="#7fa6ff" opacity="0.83"/><circle cx="1043.7" cy="108.1" r="0.95" fill="#4f7dff" opacity="0.66"/><circle cx="1132.4" cy="144.8" r="0.84" fill="#7fa6ff" opacity="0.70"/><circle cx="1062.4" cy="147.7" r="1.07" fill="#4f7dff" opacity="0.61"/><circle cx="1068.8" cy="138.2" r="0.50" fill="#7fa6ff" opacity="0.70"/><circle cx="1065.6" cy="97.8" r="0.54" fill="#dfe9ff" opacity="0.67"/><circle cx="1068.6" cy="100.2" r="0.66" fill="#7fa6ff" opacity="0.91"/><circle cx="1131.2" cy="110.1" r="0.33" fill="#dfe9ff" opacity="0.62"/><circle cx="1122.0" cy="101.5" r="0.62" fill="#7fa6ff" opacity="0.94"/><circle cx="1103.4" cy="142.7" r="0.86" fill="#4f7dff" opacity="0.68"/><circle cx="1129.9" cy="111.9" r="1.09" fill="#4f7dff" opacity="0.78"/><circle cx="1062.2" cy="139.0" r="0.85" fill="#7fa6ff" opacity="0.63"/><circle cx="1043.6" cy="110.9" r="0.33" fill="#dfe9ff" opacity="0.61"/><circle cx="1094.2" cy="138.6" r="1.14" fill="#4f7dff" opacity="0.90"/><circle cx="1103.9" cy="116.0" r="1.12" fill="#4f7dff" opacity="0.80"/><circle cx="1032.8" cy="105.3" r="0.76" fill="#7fa6ff" opacity="0.73"/><circle cx="1037.3" cy="102.4" r="0.65" fill="#7fa6ff" opacity="0.74"/><circle cx="1048.5" cy="107.4" r="0.95" fill="#7fa6ff" opacity="0.64"/><circle cx="1083.2" cy="106.7" r="1.16" fill="#4f7dff" opacity="0.61"/><circle cx="1057.3" cy="152.0" r="0.94" fill="#7fa6ff" opacity="0.80"/><circle cx="1052.5" cy="109.3" r="0.75" fill="#4f7dff" opacity="0.78"/><circle cx="1100.9" cy="117.5" r="0.51" fill="#7fa6ff" opacity="0.71"/><circle cx="1060.0" cy="146.5" r="0.97" fill="#4f7dff" opacity="0.62"/><circle cx="1093.9" cy="118.3" r="0.36" fill="#dfe9ff" opacity="0.84"/><circle cx="1016.3" cy="101.3" r="0.87" fill="#7fa6ff" opacity="0.74"/><circle cx="1094.1" cy="118.2" r="0.74" fill="#4f7dff" opacity="0.79"/><circle cx="1130.2" cy="97.1" r="0.56" fill="#7fa6ff" opacity="0.93"/><circle cx="1023.1" cy="99.7" r="0.91" fill="#7fa6ff" opacity="0.82"/><circle cx="1133.0" cy="149.3" r="0.81" fill="#4f7dff" opacity="0.72"/><circle cx="1136.1" cy="106.0" r="0.60" fill="#7fa6ff" opacity="0.74"/><circle cx="1089.3" cy="134.9" r="0.38" fill="#dfe9ff" opacity="0.85"/><circle cx="1095.6" cy="110.7" r="0.51" fill="#dfe9ff" opacity="0.64"/><circle cx="1124.3" cy="109.2" r="0.58" fill="#7fa6ff" opacity="0.77"/><circle cx="1078.5" cy="126.7" r="0.47" fill="#dfe9ff" opacity="0.63"/><circle cx="1120.0" cy="109.3" r="0.52" fill="#7fa6ff" opacity="0.78"/><circle cx="1069.3" cy="98.1" r="0.52" fill="#dfe9ff" opacity="0.95"/><circle cx="1119.8" cy="106.9" r="0.94" fill="#7fa6ff" opacity="0.77"/><circle cx="1151.8" cy="100.4" r="0.85" fill="#7fa6ff" opacity="0.93"/><circle cx="1143.3" cy="141.9" r="0.77" fill="#4f7dff" opacity="0.75"/><circle cx="1146.6" cy="146.2" r="0.73" fill="#7fa6ff" opacity="0.71"/><circle cx="1112.4" cy="101.7" r="0.85" fill="#7fa6ff" opacity="0.64"/><circle cx="1091.1" cy="118.5" r="0.89" fill="#7fa6ff" opacity="0.79"/><circle cx="1098.2" cy="102.6" r="0.55" fill="#dfe9ff" opacity="0.82"/><circle cx="1097.8" cy="136.4" r="0.92" fill="#4f7dff" opacity="0.65"/><circle cx="1132.3" cy="143.3" r="0.94" fill="#7fa6ff" opacity="0.81"/><circle cx="1143.1" cy="151.2" r="0.79" fill="#7fa6ff" opacity="0.61"/><circle cx="1104.4" cy="128.9" r="0.54" fill="#dfe9ff" opacity="0.69"/><circle cx="1106.4" cy="103.3" r="0.90" fill="#4f7dff" opacity="0.68"/><circle cx="1095.6" cy="137.0" r="0.70" fill="#7fa6ff" opacity="0.93"/><circle cx="1091.2" cy="133.4" r="0.53" fill="#7fa6ff" opacity="0.87"/><circle cx="1043.9" cy="120.3" r="0.79" fill="#7fa6ff" opacity="0.88"/><circle cx="1135.8" cy="111.4" r="0.83" fill="#7fa6ff" opacity="0.76"/><circle cx="1114.6" cy="105.0" r="0.83" fill="#4f7dff" opacity="0.77"/><circle cx="1090.1" cy="142.5" r="0.93" fill="#7fa6ff" opacity="0.68"/><circle cx="1121.5" cy="98.5" r="0.86" fill="#4f7dff" opacity="0.86"/><circle cx="1062.3" cy="144.2" r="1.02" fill="#4f7dff" opacity="0.81"/><circle cx="1082.4" cy="105.3" r="0.89" fill="#7fa6ff" opacity="0.75"/><circle cx="1118.8" cy="122.8" r="0.37" fill="#dfe9ff" opacity="0.82"/><circle cx="1026.6" cy="100.7" r="0.33" fill="#dfe9ff" opacity="0.64"/><circle cx="1105.8" cy="114.6" r="0.73" fill="#4f7dff" opacity="0.78"/><circle cx="1132.3" cy="102.0" r="0.52" fill="#dfe9ff" opacity="0.92"/><circle cx="1020.4" cy="104.8" r="1.02" fill="#4f7dff" opacity="0.85"/><circle cx="1061.0" cy="132.3" r="0.38" fill="#dfe9ff" opacity="0.70"/><circle cx="1061.2" cy="97.3" r="0.88" fill="#7fa6ff" opacity="0.82"/><circle cx="1092.1" cy="145.7" r="0.75" fill="#4f7dff" opacity="0.85"/><circle cx="1044.3" cy="110.3" r="0.70" fill="#4f7dff" opacity="0.75"/><circle cx="1085.5" cy="108.1" r="0.43" fill="#dfe9ff" opacity="0.72"/><circle cx="1134.0" cy="142.8" r="0.84" fill="#4f7dff" opacity="0.66"/><circle cx="1114.8" cy="108.7" r="0.66" fill="#7fa6ff" opacity="0.74"/><circle cx="1027.8" cy="102.2" r="0.37" fill="#dfe9ff" opacity="0.69"/><circle cx="1091.2" cy="110.8" r="1.02" fill="#4f7dff" opacity="0.70"/><circle cx="1070.3" cy="96.0" r="1.07" fill="#4f7dff" opacity="0.73"/><circle cx="1043.5" cy="118.4" r="0.37" fill="#dfe9ff" opacity="0.74"/><circle cx="1128.2" cy="114.8" r="0.78" fill="#7fa6ff" opacity="0.76"/><circle cx="1118.4" cy="102.7" r="1.05" fill="#4f7dff" opacity="0.86"/><circle cx="1112.3" cy="118.2" r="0.64" fill="#7fa6ff" opacity="0.82"/><circle cx="1127.0" cy="113.5" r="0.61" fill="#7fa6ff" opacity="0.75"/><circle cx="1080.4" cy="119.5" r="0.80" fill="#7fa6ff" opacity="0.93"/><circle cx="1041.6" cy="117.3" r="0.89" fill="#4f7dff" opacity="0.75"/><circle cx="1092.9" cy="149.3" r="1.17" fill="#4f7dff" opacity="0.76"/><circle cx="1092.6" cy="113.3" r="0.79" fill="#7fa6ff" opacity="0.89"/><circle cx="1089.8" cy="133.1" r="0.81" fill="#4f7dff" opacity="0.81"/><circle cx="1054.6" cy="133.8" r="0.42" fill="#dfe9ff" opacity="0.75"/><circle cx="1121.2" cy="98.8" r="0.60" fill="#7fa6ff" opacity="0.88"/><circle cx="1033.9" cy="109.4" r="1.02" fill="#4f7dff" opacity="0.74"/><circle cx="1095.6" cy="145.1" r="0.88" fill="#4f7dff" opacity="0.79"/><circle cx="1132.2" cy="106.9" r="0.63" fill="#7fa6ff" opacity="0.79"/><circle cx="1033.3" cy="105.7" r="0.88" fill="#7fa6ff" opacity="0.69"/><circle cx="1055.6" cy="143.8" r="0.72" fill="#7fa6ff" opacity="0.75"/><circle cx="1106.3" cy="117.0" r="0.92" fill="#7fa6ff" opacity="0.90"/><circle cx="1035.5" cy="105.9" r="0.51" fill="#7fa6ff" opacity="0.60"/><circle cx="1037.3" cy="101.2" r="0.78" fill="#4f7dff" opacity="0.87"/><circle cx="1102.2" cy="109.1" r="0.90" fill="#7fa6ff" opacity="0.88"/><circle cx="1135.0" cy="146.9" r="0.74" fill="#7fa6ff" opacity="0.86"/><circle cx="1094.6" cy="142.6" r="0.56" fill="#7fa6ff" opacity="0.77"/><circle cx="1086.5" cy="124.8" r="0.70" fill="#4f7dff" opacity="0.85"/><circle cx="1082.2" cy="123.3" r="0.88" fill="#7fa6ff" opacity="0.73"/><circle cx="1102.4" cy="115.5" r="0.87" fill="#4f7dff" opacity="0.89"/><circle cx="1088.3" cy="128.3" r="0.72" fill="#4f7dff" opacity="0.82"/><circle cx="1083.1" cy="125.7" r="0.81" fill="#4f7dff" opacity="0.73"/><circle cx="1108.8" cy="108.4" r="0.64" fill="#7fa6ff" opacity="0.70"/><circle cx="1099.1" cy="118.6" r="0.72" fill="#4f7dff" opacity="0.82"/><circle cx="1109.3" cy="108.6" r="1.01" fill="#4f7dff" opacity="0.79"/><circle cx="1104.8" cy="114.6" r="0.81" fill="#7fa6ff" opacity="0.67"/><circle cx="1125.9" cy="100.5" r="0.67" fill="#7fa6ff" opacity="0.89"/><circle cx="1127.6" cy="123.3" r="0.39" fill="#dfe9ff" opacity="0.75"/><circle cx="1060.9" cy="131.8" r="0.92" fill="#7fa6ff" opacity="0.62"/><circle cx="1032.4" cy="107.2" r="0.91" fill="#7fa6ff" opacity="0.76"/><circle cx="1028.1" cy="103.4" r="0.32" fill="#dfe9ff" opacity="0.85"/><circle cx="1050.0" cy="112.2" r="0.33" fill="#dfe9ff" opacity="0.87"/><circle cx="1117.2" cy="104.3" r="0.74" fill="#4f7dff" opacity="0.79"/><circle cx="1108.2" cy="106.8" r="0.39" fill="#dfe9ff" opacity="0.86"/><circle cx="1039.2" cy="104.0" r="0.53" fill="#7fa6ff" opacity="0.73"/><circle cx="1097.4" cy="131.3" r="0.57" fill="#7fa6ff" opacity="0.88"/><circle cx="1096.3" cy="140.8" r="0.54" fill="#dfe9ff" opacity="0.85"/><circle cx="1059.5" cy="131.9" r="0.89" fill="#4f7dff" opacity="0.81"/><circle cx="1101.3" cy="101.7" r="0.84" fill="#4f7dff" opacity="0.60"/><circle cx="1053.0" cy="132.3" r="0.87" fill="#7fa6ff" opacity="0.91"/><circle cx="1131.2" cy="103.5" r="0.62" fill="#7fa6ff" opacity="0.90"/><circle cx="1130.5" cy="115.4" r="0.87" fill="#4f7dff" opacity="0.63"/><circle cx="1094.4" cy="108.1" r="0.49" fill="#dfe9ff" opacity="0.93"/><circle cx="1122.5" cy="108.4" r="0.54" fill="#7fa6ff" opacity="0.88"/><circle cx="1098.1" cy="101.6" r="0.96" fill="#4f7dff" opacity="0.74"/><circle cx="1095.9" cy="133.6" r="0.57" fill="#7fa6ff" opacity="0.62"/><circle cx="1096.3" cy="142.8" r="0.91" fill="#4f7dff" opacity="0.88"/><circle cx="1124.8" cy="106.7" r="0.83" fill="#4f7dff" opacity="0.61"/><circle cx="1094.9" cy="103.3" r="0.93" fill="#7fa6ff" opacity="0.92"/><circle cx="1095.9" cy="118.2" r="1.03" fill="#4f7dff" opacity="0.72"/><circle cx="1052.0" cy="136.9" r="1.15" fill="#4f7dff" opacity="0.85"/><circle cx="1116.6" cy="117.8" r="0.73" fill="#4f7dff" opacity="0.64"/><circle cx="1123.1" cy="98.9" r="0.63" fill="#7fa6ff" opacity="0.81"/><circle cx="1061.7" cy="143.1" r="0.43" fill="#dfe9ff" opacity="0.66"/><circle cx="1020.6" cy="99.6" r="0.92" fill="#7fa6ff" opacity="0.90"/><circle cx="1142.1" cy="150.7" r="0.54" fill="#7fa6ff" opacity="0.93"/><circle cx="1117.2" cy="123.9" r="0.52" fill="#dfe9ff" opacity="0.69"/><circle cx="1054.1" cy="105.3" r="0.58" fill="#7fa6ff" opacity="0.77"/><circle cx="1023.6" cy="101.7" r="0.60" fill="#7fa6ff" opacity="0.77"/><circle cx="1056.3" cy="143.0" r="0.66" fill="#7fa6ff" opacity="0.95"/><circle cx="1145.5" cy="145.6" r="0.56" fill="#7fa6ff" opacity="0.66"/><circle cx="1125.3" cy="113.6" r="0.34" fill="#dfe9ff" opacity="0.63"/><circle cx="1102.2" cy="127.6" r="0.59" fill="#7fa6ff" opacity="0.81"/><circle cx="1116.4" cy="107.1" r="0.59" fill="#7fa6ff" opacity="0.62"/><circle cx="1135.5" cy="103.7" r="0.51" fill="#7fa6ff" opacity="0.92"/><circle cx="1134.0" cy="135.9" r="0.67" fill="#7fa6ff" opacity="0.81"/><circle cx="1079.0" cy="126.3" r="0.48" fill="#dfe9ff" opacity="0.89"/><circle cx="1138.8" cy="138.9" r="0.89" fill="#4f7dff" opacity="0.83"/><circle cx="1024.2" cy="103.2" r="0.95" fill="#4f7dff" opacity="0.75"/><circle cx="1091.1" cy="124.9" r="0.54" fill="#dfe9ff" opacity="0.68"/><circle cx="1051.2" cy="106.8" r="0.34" fill="#dfe9ff" opacity="0.84"/><circle cx="1100.9" cy="122.4" r="0.82" fill="#7fa6ff" opacity="0.64"/><circle cx="1085.8" cy="127.3" r="0.55" fill="#7fa6ff" opacity="0.74"/><circle cx="1038.9" cy="106.2" r="0.89" fill="#4f7dff" opacity="0.73"/><circle cx="1071.9" cy="98.7" r="0.87" fill="#4f7dff" opacity="0.67"/><circle cx="1063.2" cy="131.5" r="1.10" fill="#4f7dff" opacity="0.87"/><circle cx="1131.6" cy="104.8" r="0.44" fill="#dfe9ff" opacity="0.94"/><circle cx="1126.2" cy="99.0" r="0.86" fill="#7fa6ff" opacity="0.91"/><circle cx="1092.8" cy="99.8" r="0.61" fill="#7fa6ff" opacity="0.78"/><circle cx="1056.5" cy="139.9" r="0.55" fill="#7fa6ff" opacity="0.81"/><circle cx="1053.7" cy="129.5" r="0.57" fill="#7fa6ff" opacity="0.64"/><circle cx="1093.3" cy="105.3" r="0.76" fill="#7fa6ff" opacity="0.83"/><circle cx="1044.2" cy="113.7" r="0.75" fill="#7fa6ff" opacity="0.81"/><circle cx="1025.0" cy="103.3" r="0.53" fill="#7fa6ff" opacity="0.74"/><circle cx="1103.3" cy="104.7" r="0.96" fill="#4f7dff" opacity="0.82"/><circle cx="1121.4" cy="110.5" r="0.85" fill="#7fa6ff" opacity="0.85"/><circle cx="1124.6" cy="121.8" r="0.93" fill="#7fa6ff" opacity="0.80"/><circle cx="1080.8" cy="112.9" r="0.41" fill="#dfe9ff" opacity="0.79"/><circle cx="1127.7" cy="104.7" r="0.70" fill="#7fa6ff" opacity="0.66"/><circle cx="1058.8" cy="150.3" r="0.76" fill="#7fa6ff" opacity="0.63"/><circle cx="1135.7" cy="105.4" r="0.80" fill="#4f7dff" opacity="0.73"/><circle cx="1125.7" cy="124.8" r="0.96" fill="#4f7dff" opacity="0.76"/><circle cx="1065.5" cy="98.3" r="0.74" fill="#7fa6ff" opacity="0.63"/><circle cx="1095.5" cy="122.5" r="1.18" fill="#4f7dff" opacity="0.75"/><circle cx="1091.0" cy="106.9" r="0.39" fill="#dfe9ff" opacity="0.94"/><circle cx="1031.2" cy="101.8" r="0.87" fill="#7fa6ff" opacity="0.95"/><circle cx="1088.4" cy="127.0" r="0.58" fill="#7fa6ff" opacity="0.82"/><circle cx="1058.9" cy="105.2" r="0.80" fill="#7fa6ff" opacity="0.67"/><circle cx="1086.4" cy="123.9" r="0.79" fill="#7fa6ff" opacity="0.79"/><circle cx="1037.8" cy="110.5" r="0.34" fill="#dfe9ff" opacity="0.66"/><circle cx="1090.0" cy="106.4" r="0.86" fill="#7fa6ff" opacity="0.62"/><circle cx="1103.9" cy="143.6" r="0.53" fill="#dfe9ff" opacity="0.90"/><circle cx="1091.6" cy="134.7" r="0.53" fill="#7fa6ff" opacity="0.64"/><circle cx="1133.2" cy="137.0" r="0.59" fill="#7fa6ff" opacity="0.70"/><circle cx="1037.7" cy="114.0" r="0.38" fill="#dfe9ff" opacity="0.89"/><circle cx="1134.7" cy="107.6" r="0.66" fill="#7fa6ff" opacity="0.85"/><circle cx="1069.2" cy="97.6" r="0.93" fill="#7fa6ff" opacity="0.78"/><circle cx="1034.2" cy="114.0" r="0.53" fill="#dfe9ff" opacity="0.81"/><circle cx="1088.6" cy="124.6" r="0.85" fill="#7fa6ff" opacity="0.73"/><circle cx="1059.8" cy="134.5" r="0.36" fill="#dfe9ff" opacity="0.90"/><circle cx="1059.9" cy="145.0" r="0.48" fill="#dfe9ff" opacity="0.70"/><circle cx="1125.9" cy="102.5" r="0.77" fill="#4f7dff" opacity="0.68"/><circle cx="1031.9" cy="100.6" r="1.06" fill="#4f7dff" opacity="0.61"/><circle cx="1041.1" cy="105.3" r="0.82" fill="#7fa6ff" opacity="0.69"/><circle cx="1134.4" cy="109.4" r="0.52" fill="#7fa6ff" opacity="0.90"/><circle cx="1114.1" cy="111.9" r="1.01" fill="#4f7dff" opacity="0.74"/><circle cx="1115.6" cy="107.5" r="0.75" fill="#7fa6ff" opacity="0.94"/><circle cx="1035.0" cy="113.9" r="0.61" fill="#7fa6ff" opacity="0.68"/><circle cx="1088.9" cy="130.9" r="0.88" fill="#4f7dff" opacity="0.69"/><circle cx="1141.6" cy="150.5" r="0.65" fill="#7fa6ff" opacity="0.89"/><circle cx="1093.6" cy="110.5" r="0.47" fill="#dfe9ff" opacity="0.81"/><circle cx="1056.7" cy="136.4" r="0.53" fill="#7fa6ff" opacity="0.70"/><circle cx="1043.6" cy="114.3" r="0.55" fill="#7fa6ff" opacity="0.71"/><circle cx="1107.3" cy="119.1" r="1.03" fill="#4f7dff" opacity="0.68"/><circle cx="1042.0" cy="118.4" r="1.16" fill="#4f7dff" opacity="0.65"/><circle cx="1127.3" cy="105.9" r="0.86" fill="#4f7dff" opacity="0.66"/><circle cx="1096.3" cy="119.0" r="1.05" fill="#4f7dff" opacity="0.87"/><circle cx="1042.7" cy="112.9" r="0.51" fill="#dfe9ff" opacity="0.90"/><circle cx="1088.8" cy="132.4" r="0.70" fill="#7fa6ff" opacity="0.83"/><circle cx="1133.2" cy="101.2" r="0.63" fill="#7fa6ff" opacity="0.76"/><circle cx="1095.8" cy="137.2" r="0.54" fill="#7fa6ff" opacity="0.71"/><circle cx="1145.0" cy="103.7" r="1.18" fill="#4f7dff" opacity="0.79"/><circle cx="1111.9" cy="120.3" r="0.76" fill="#7fa6ff" opacity="0.93"/><circle cx="1084.0" cy="117.8" r="0.65" fill="#7fa6ff" opacity="0.91"/><circle cx="1096.0" cy="134.0" r="0.36" fill="#dfe9ff" opacity="0.91"/><circle cx="1138.4" cy="143.3" r="0.44" fill="#dfe9ff" opacity="0.69"/><circle cx="1085.2" cy="123.8" r="0.76" fill="#7fa6ff" opacity="0.64"/><circle cx="1088.6" cy="121.6" r="0.41" fill="#dfe9ff" opacity="0.63"/><circle cx="1094.0" cy="113.4" r="0.76" fill="#4f7dff" opacity="0.90"/><circle cx="1095.7" cy="109.5" r="0.50" fill="#dfe9ff" opacity="0.62"/><circle cx="1146.2" cy="103.3" r="0.84" fill="#7fa6ff" opacity="0.72"/><circle cx="1124.3" cy="115.6" r="0.76" fill="#4f7dff" opacity="0.71"/><circle cx="1120.6" cy="98.3" r="0.72" fill="#4f7dff" opacity="0.78"/><circle cx="1094.5" cy="140.9" r="0.67" fill="#7fa6ff" opacity="0.65"/><circle cx="1113.8" cy="107.4" r="0.71" fill="#4f7dff" opacity="0.70"/><circle cx="1139.9" cy="107.9" r="0.36" fill="#dfe9ff" opacity="0.89"/><circle cx="1046.3" cy="101.8" r="0.52" fill="#7fa6ff" opacity="0.66"/><circle cx="1097.7" cy="134.6" r="0.50" fill="#7fa6ff" opacity="0.80"/><circle cx="1095.4" cy="109.8" r="1.09" fill="#4f7dff" opacity="0.79"/><circle cx="1055.6" cy="108.2" r="1.17" fill="#4f7dff" opacity="0.80"/><circle cx="1094.0" cy="133.4" r="0.40" fill="#dfe9ff" opacity="0.71"/><circle cx="1079.0" cy="122.9" r="0.58" fill="#7fa6ff" opacity="0.62"/><circle cx="1058.5" cy="139.7" r="0.98" fill="#4f7dff" opacity="0.88"/><circle cx="1064.0" cy="100.0" r="0.54" fill="#7fa6ff" opacity="0.66"/><circle cx="1143.6" cy="141.8" r="0.51" fill="#7fa6ff" opacity="0.66"/><circle cx="1053.7" cy="114.1" r="0.41" fill="#dfe9ff" opacity="0.67"/><circle cx="1101.4" cy="103.7" r="0.59" fill="#7fa6ff" opacity="0.86"/><circle cx="1092.0" cy="103.0" r="0.92" fill="#7fa6ff" opacity="0.67"/><circle cx="1103.0" cy="112.8" r="0.54" fill="#7fa6ff" opacity="0.65"/><circle cx="1035.8" cy="110.0" r="0.51" fill="#dfe9ff" opacity="0.75"/><circle cx="1092.3" cy="121.6" r="0.80" fill="#7fa6ff" opacity="0.81"/><circle cx="1052.2" cy="113.6" r="1.09" fill="#4f7dff" opacity="0.69"/><circle cx="1125.6" cy="96.4" r="0.63" fill="#7fa6ff" opacity="0.78"/><circle cx="1108.9" cy="109.6" r="0.95" fill="#7fa6ff" opacity="0.68"/><circle cx="1094.6" cy="147.9" r="0.88" fill="#4f7dff" opacity="0.64"/><circle cx="1040.8" cy="111.9" r="0.78" fill="#4f7dff" opacity="0.61"/><circle cx="1052.9" cy="131.6" r="0.59" fill="#7fa6ff" opacity="0.87"/><circle cx="1138.5" cy="103.4" r="0.84" fill="#7fa6ff" opacity="0.89"/><circle cx="1055.8" cy="138.2" r="0.90" fill="#7fa6ff" opacity="0.66"/><circle cx="1112.8" cy="121.0" r="0.76" fill="#7fa6ff" opacity="0.91"/><circle cx="1045.4" cy="102.5" r="0.85" fill="#7fa6ff" opacity="0.90"/><circle cx="1041.5" cy="103.8" r="0.85" fill="#4f7dff" opacity="0.61"/><circle cx="1016.8" cy="100.7" r="0.83" fill="#7fa6ff" opacity="0.63"/><circle cx="1039.5" cy="115.5" r="0.40" fill="#dfe9ff" opacity="0.92"/><circle cx="1117.6" cy="102.6" r="0.72" fill="#4f7dff" opacity="0.67"/><circle cx="1128.4" cy="115.1" r="0.44" fill="#dfe9ff" opacity="0.68"/><circle cx="1041.0" cy="115.3" r="0.49" fill="#dfe9ff" opacity="0.78"/><circle cx="1153.4" cy="102.5" r="0.84" fill="#4f7dff" opacity="0.65"/><circle cx="1113.6" cy="117.4" r="0.75" fill="#7fa6ff" opacity="0.84"/><circle cx="1060.9" cy="132.6" r="0.89" fill="#4f7dff" opacity="0.72"/><circle cx="1135.6" cy="108.9" r="0.72" fill="#4f7dff" opacity="0.81"/><circle cx="1093.7" cy="139.3" r="0.70" fill="#4f7dff" opacity="0.82"/><circle cx="1090.5" cy="120.0" r="0.64" fill="#7fa6ff" opacity="0.82"/><circle cx="1092.9" cy="145.2" r="0.62" fill="#7fa6ff" opacity="0.92"/><circle cx="1082.9" cy="113.0" r="0.71" fill="#7fa6ff" opacity="0.68"/><circle cx="1035.7" cy="99.7" r="0.74" fill="#7fa6ff" opacity="0.78"/><circle cx="1131.4" cy="144.2" r="0.87" fill="#7fa6ff" opacity="0.76"/><circle cx="1106.8" cy="106.1" r="1.13" fill="#4f7dff" opacity="0.61"/><circle cx="1071.9" cy="95.1" r="0.70" fill="#7fa6ff" opacity="0.77"/><circle cx="1129.3" cy="110.6" r="0.48" fill="#dfe9ff" opacity="0.73"/><circle cx="1068.3" cy="137.7" r="0.51" fill="#7fa6ff" opacity="0.67"/><circle cx="1040.9" cy="113.2" r="0.39" fill="#dfe9ff" opacity="0.68"/><circle cx="1106.2" cy="104.1" r="0.69" fill="#7fa6ff" opacity="0.88"/><circle cx="1057.6" cy="133.3" r="0.86" fill="#7fa6ff" opacity="0.72"/><circle cx="1090.4" cy="127.5" r="1.08" fill="#4f7dff" opacity="0.61"/><circle cx="1100.0" cy="129.7" r="0.88" fill="#7fa6ff" opacity="0.75"/><circle cx="1088.4" cy="106.3" r="0.83" fill="#7fa6ff" opacity="0.74"/><circle cx="1094.4" cy="109.9" r="0.76" fill="#4f7dff" opacity="0.67"/><circle cx="1122.8" cy="123.2" r="0.48" fill="#dfe9ff" opacity="0.85"/><circle cx="1131.9" cy="103.2" r="0.40" fill="#dfe9ff" opacity="0.78"/><circle cx="1060.1" cy="143.2" r="0.98" fill="#4f7dff" opacity="0.75"/><circle cx="1129.8" cy="104.2" r="0.59" fill="#7fa6ff" opacity="0.62"/><circle cx="1092.0" cy="135.5" r="0.72" fill="#7fa6ff" opacity="0.80"/><circle cx="1044.0" cy="100.2" r="0.52" fill="#7fa6ff" opacity="0.71"/><circle cx="1091.5" cy="133.2" r="0.65" fill="#7fa6ff" opacity="0.70"/><circle cx="1116.8" cy="107.7" r="0.70" fill="#7fa6ff" opacity="0.93"/><circle cx="1111.5" cy="116.0" r="0.59" fill="#7fa6ff" opacity="0.89"/><circle cx="1036.3" cy="100.3" r="0.55" fill="#7fa6ff" opacity="0.63"/><circle cx="1127.3" cy="98.1" r="0.80" fill="#7fa6ff" opacity="0.69"/><circle cx="1037.4" cy="100.7" r="0.88" fill="#7fa6ff" opacity="0.65"/><circle cx="1129.4" cy="96.2" r="0.51" fill="#7fa6ff" opacity="0.73"/><circle cx="1081.7" cy="112.5" r="0.81" fill="#7fa6ff" opacity="0.64"/><circle cx="1056.9" cy="137.2" r="0.95" fill="#4f7dff" opacity="0.88"/><circle cx="1047.9" cy="99.8" r="0.46" fill="#dfe9ff" opacity="0.94"/><circle cx="1064.6" cy="98.5" r="0.52" fill="#7fa6ff" opacity="0.72"/><circle cx="1127.8" cy="121.1" r="0.52" fill="#7fa6ff" opacity="0.78"/><circle cx="1065.8" cy="135.4" r="0.57" fill="#7fa6ff" opacity="0.66"/><circle cx="1135.5" cy="103.1" r="0.57" fill="#7fa6ff" opacity="0.63"/><circle cx="1086.2" cy="125.0" r="0.43" fill="#dfe9ff" opacity="0.66"/><circle cx="1091.8" cy="126.9" r="0.59" fill="#7fa6ff" opacity="0.74"/><circle cx="1049.7" cy="103.3" r="0.90" fill="#7fa6ff" opacity="0.61"/><circle cx="1128.2" cy="122.8" r="0.60" fill="#7fa6ff" opacity="0.86"/><circle cx="1089.3" cy="140.8" r="0.74" fill="#4f7dff" opacity="0.77"/><circle cx="1127.2" cy="113.7" r="0.38" fill="#dfe9ff" opacity="0.81"/><circle cx="1103.6" cy="114.9" r="0.87" fill="#4f7dff" opacity="0.84"/><circle cx="1120.1" cy="115.7" r="0.40" fill="#dfe9ff" opacity="0.65"/><circle cx="1062.7" cy="96.5" r="1.10" fill="#4f7dff" opacity="0.74"/><circle cx="1086.4" cy="109.2" r="1.08" fill="#4f7dff" opacity="0.79"/><circle cx="1043.9" cy="119.2" r="1.09" fill="#4f7dff" opacity="0.63"/><circle cx="1111.4" cy="111.4" r="0.51" fill="#dfe9ff" opacity="0.93"/><circle cx="1134.1" cy="107.8" r="0.70" fill="#7fa6ff" opacity="0.89"/><circle cx="1127.3" cy="103.3" r="0.93" fill="#7fa6ff" opacity="0.79"/><circle cx="1051.4" cy="105.4" r="0.59" fill="#7fa6ff" opacity="0.76"/><circle cx="1127.2" cy="108.3" r="0.92" fill="#7fa6ff" opacity="0.89"/><circle cx="1108.5" cy="105.6" r="0.77" fill="#7fa6ff" opacity="0.89"/><circle cx="1057.1" cy="154.0" r="0.82" fill="#7fa6ff" opacity="0.75"/><circle cx="1109.7" cy="107.4" r="0.48" fill="#dfe9ff" opacity="0.61"/><circle cx="1132.8" cy="147.8" r="0.93" fill="#7fa6ff" opacity="0.73"/><circle cx="1047.4" cy="102.1" r="0.90" fill="#7fa6ff" opacity="0.74"/><circle cx="1042.5" cy="105.9" r="0.74" fill="#7fa6ff" opacity="0.60"/><circle cx="1069.2" cy="99.6" r="1.03" fill="#4f7dff" opacity="0.62"/><circle cx="1109.7" cy="118.8" r="0.73" fill="#7fa6ff" opacity="0.84"/><circle cx="1067.3" cy="96.5" r="0.51" fill="#dfe9ff" opacity="0.84"/><circle cx="1094.9" cy="130.7" r="1.15" fill="#4f7dff" opacity="0.82"/><circle cx="1151.3" cy="102.0" r="0.46" fill="#dfe9ff" opacity="0.80"/><circle cx="1122.0" cy="118.2" r="0.50" fill="#dfe9ff" opacity="0.70"/><circle cx="1093.1" cy="132.5" r="1.02" fill="#4f7dff" opacity="0.84"/><circle cx="1133.2" cy="108.3" r="0.56" fill="#7fa6ff" opacity="0.78"/><circle cx="1140.5" cy="149.2" r="0.79" fill="#4f7dff" opacity="0.69"/><circle cx="1070.1" cy="97.1" r="0.79" fill="#4f7dff" opacity="0.69"/><circle cx="1061.2" cy="131.3" r="0.38" fill="#dfe9ff" opacity="0.74"/><circle cx="1070.4" cy="97.3" r="0.59" fill="#7fa6ff" opacity="0.92"/><circle cx="1106.3" cy="109.3" r="0.57" fill="#7fa6ff" opacity="0.86"/><circle cx="1082.5" cy="123.5" r="0.84" fill="#7fa6ff" opacity="0.70"/><circle cx="1067.2" cy="100.3" r="0.63" fill="#7fa6ff" opacity="0.82"/><circle cx="1052.5" cy="109.8" r="0.51" fill="#dfe9ff" opacity="0.80"/><circle cx="1065.9" cy="98.8" r="0.61" fill="#7fa6ff" opacity="0.62"/><circle cx="1093.7" cy="110.9" r="0.69" fill="#7fa6ff" opacity="0.88"/><circle cx="1105.8" cy="114.9" r="0.90" fill="#4f7dff" opacity="0.88"/><circle cx="1144.0" cy="151.1" r="0.53" fill="#7fa6ff" opacity="0.74"/><circle cx="1087.1" cy="104.5" r="0.76" fill="#7fa6ff" opacity="0.74"/><circle cx="1097.3" cy="142.0" r="1.09" fill="#4f7dff" opacity="0.85"/><circle cx="1037.0" cy="116.2" r="0.95" fill="#4f7dff" opacity="0.87"/><circle cx="1132.5" cy="117.7" r="0.77" fill="#4f7dff" opacity="0.81"/><circle cx="1115.8" cy="120.0" r="0.34" fill="#dfe9ff" opacity="0.81"/><circle cx="1054.7" cy="155.9" r="0.75" fill="#7fa6ff" opacity="0.88"/><circle cx="1046.5" cy="108.3" r="0.88" fill="#7fa6ff" opacity="0.88"/><circle cx="1118.7" cy="121.8" r="0.73" fill="#7fa6ff" opacity="0.81"/><circle cx="1047.7" cy="103.5" r="1.10" fill="#4f7dff" opacity="0.89"/><circle cx="1062.4" cy="95.8" r="0.43" fill="#dfe9ff" opacity="0.65"/><circle cx="1043.2" cy="112.0" r="0.70" fill="#7fa6ff" opacity="0.67"/><circle cx="1122.0" cy="98.3" r="1.06" fill="#4f7dff" opacity="0.82"/><circle cx="1017.4" cy="103.8" r="1.02" fill="#4f7dff" opacity="0.68"/><circle cx="1156.7" cy="100.7" r="0.94" fill="#4f7dff" opacity="0.85"/><circle cx="1095.8" cy="126.8" r="0.61" fill="#7fa6ff" opacity="0.61"/><circle cx="1098.9" cy="135.2" r="0.51" fill="#dfe9ff" opacity="0.88"/><circle cx="1104.5" cy="102.4" r="0.79" fill="#7fa6ff" opacity="0.67"/><circle cx="1050.2" cy="101.0" r="0.55" fill="#7fa6ff" opacity="0.81"/><circle cx="1080.5" cy="121.8" r="0.82" fill="#7fa6ff" opacity="0.75"/><circle cx="1108.1" cy="114.9" r="0.56" fill="#7fa6ff" opacity="0.92"/><circle cx="1127.8" cy="106.4" r="0.83" fill="#7fa6ff" opacity="0.61"/><circle cx="1111.2" cy="99.5" r="0.91" fill="#7fa6ff" opacity="0.69"/><circle cx="1042.1" cy="107.4" r="0.73" fill="#7fa6ff" opacity="0.64"/><circle cx="1127.6" cy="102.1" r="0.70" fill="#4f7dff" opacity="0.86"/><circle cx="1094.7" cy="106.5" r="0.78" fill="#7fa6ff" opacity="0.81"/><circle cx="1057.0" cy="134.0" r="0.49" fill="#dfe9ff" opacity="0.61"/><circle cx="1133.7" cy="107.1" r="0.55" fill="#7fa6ff" opacity="0.83"/><circle cx="1093.3" cy="136.9" r="0.49" fill="#dfe9ff" opacity="0.90"/><circle cx="1067.9" cy="140.1" r="0.77" fill="#4f7dff" opacity="0.78"/><circle cx="1100.8" cy="126.0" r="0.68" fill="#7fa6ff" opacity="0.81"/><circle cx="1107.9" cy="100.4" r="1.10" fill="#4f7dff" opacity="0.87"/><circle cx="1134.8" cy="113.3" r="0.48" fill="#dfe9ff" opacity="0.90"/><circle cx="1065.2" cy="138.7" r="0.42" fill="#dfe9ff" opacity="0.94"/><circle cx="1124.1" cy="105.5" r="1.08" fill="#4f7dff" opacity="0.68"/><circle cx="1141.8" cy="100.1" r="0.85" fill="#7fa6ff" opacity="0.87"/><circle cx="1052.6" cy="113.3" r="0.79" fill="#4f7dff" opacity="0.73"/><circle cx="1113.4" cy="115.0" r="1.08" fill="#4f7dff" opacity="0.67"/><circle cx="1107.2" cy="121.4" r="0.77" fill="#7fa6ff" opacity="0.84"/><circle cx="1054.5" cy="109.9" r="0.34" fill="#dfe9ff" opacity="0.71"/><circle cx="1029.0" cy="99.3" r="0.87" fill="#7fa6ff" opacity="0.61"/><circle cx="1133.6" cy="145.0" r="1.10" fill="#4f7dff" opacity="0.80"/><circle cx="1042.6" cy="101.1" r="0.80" fill="#7fa6ff" opacity="0.81"/><circle cx="1035.2" cy="108.7" r="0.40" fill="#dfe9ff" opacity="0.78"/><circle cx="1134.7" cy="144.5" r="0.42" fill="#dfe9ff" opacity="0.64"/><circle cx="1081.0" cy="113.6" r="0.35" fill="#dfe9ff" opacity="0.77"/><circle cx="1047.2" cy="111.5" r="0.89" fill="#7fa6ff" opacity="0.94"/><circle cx="1138.7" cy="145.9" r="0.38" fill="#dfe9ff" opacity="0.92"/><circle cx="1081.2" cy="112.3" r="0.42" fill="#dfe9ff" opacity="0.71"/><circle cx="1044.8" cy="116.8" r="0.55" fill="#7fa6ff" opacity="0.94"/><circle cx="1082.5" cy="111.8" r="0.61" fill="#7fa6ff" opacity="0.77"/><circle cx="1101.7" cy="117.5" r="0.50" fill="#dfe9ff" opacity="0.93"/><circle cx="1121.0" cy="104.2" r="0.91" fill="#7fa6ff" opacity="0.66"/><circle cx="1042.8" cy="111.2" r="0.92" fill="#7fa6ff" opacity="0.74"/><circle cx="1083.5" cy="126.6" r="0.95" fill="#4f7dff" opacity="0.90"/><circle cx="1134.3" cy="146.6" r="0.93" fill="#4f7dff" opacity="0.67"/><circle cx="1080.2" cy="123.3" r="0.77" fill="#4f7dff" opacity="0.67"/><circle cx="1089.9" cy="122.1" r="0.73" fill="#4f7dff" opacity="0.67"/><circle cx="1090.9" cy="104.7" r="1.03" fill="#4f7dff" opacity="0.75"/><circle cx="1129.7" cy="101.5" r="0.80" fill="#4f7dff" opacity="0.62"/><circle cx="1041.4" cy="114.9" r="0.37" fill="#dfe9ff" opacity="0.73"/><circle cx="1111.3" cy="107.9" r="0.43" fill="#dfe9ff" opacity="0.84"/><circle cx="1116.6" cy="117.8" r="0.54" fill="#dfe9ff" opacity="0.87"/><circle cx="1073.8" cy="97.4" r="0.82" fill="#4f7dff" opacity="0.82"/><circle cx="1097.7" cy="136.7" r="0.92" fill="#4f7dff" opacity="0.65"/><circle cx="1068.2" cy="97.4" r="1.12" fill="#4f7dff" opacity="0.79"/><circle cx="1105.9" cy="114.1" r="0.80" fill="#4f7dff" opacity="0.83"/><circle cx="1058.4" cy="143.1" r="1.00" fill="#4f7dff" opacity="0.85"/><circle cx="1091.7" cy="112.7" r="0.34" fill="#dfe9ff" opacity="0.60"/><circle cx="1040.2" cy="114.6" r="0.37" fill="#dfe9ff" opacity="0.69"/><circle cx="1089.9" cy="139.0" r="0.72" fill="#7fa6ff" opacity="0.69"/><circle cx="1104.4" cy="114.6" r="0.86" fill="#7fa6ff" opacity="0.86"/><circle cx="1042.3" cy="99.5" r="0.52" fill="#7fa6ff" opacity="0.65"/><circle cx="1129.1" cy="107.8" r="0.45" fill="#dfe9ff" opacity="0.67"/><circle cx="1116.4" cy="107.6" r="0.82" fill="#4f7dff" opacity="0.63"/><circle cx="1052.3" cy="132.3" r="0.83" fill="#7fa6ff" opacity="0.61"/><circle cx="1114.0" cy="119.9" r="0.80" fill="#4f7dff" opacity="0.69"/><circle cx="1125.4" cy="106.2" r="1.18" fill="#4f7dff" opacity="0.84"/><circle cx="1059.6" cy="139.3" r="0.73" fill="#4f7dff" opacity="0.78"/><circle cx="1148.3" cy="102.9" r="0.59" fill="#7fa6ff" opacity="0.64"/><circle cx="1087.7" cy="125.9" r="0.82" fill="#7fa6ff" opacity="0.79"/><circle cx="1117.0" cy="109.8" r="0.70" fill="#7fa6ff" opacity="0.92"/><circle cx="1081.9" cy="119.6" r="0.53" fill="#7fa6ff" opacity="0.86"/><circle cx="1134.2" cy="148.7" r="0.84" fill="#7fa6ff" opacity="0.75"/><circle cx="1121.0" cy="102.0" r="0.94" fill="#4f7dff" opacity="0.89"/><circle cx="1081.8" cy="113.3" r="0.76" fill="#4f7dff" opacity="0.66"/><circle cx="1036.7" cy="104.4" r="0.58" fill="#7fa6ff" opacity="0.86"/><circle cx="1101.9" cy="101.5" r="0.86" fill="#4f7dff" opacity="0.85"/><circle cx="1067.6" cy="135.4" r="0.67" fill="#7fa6ff" opacity="0.64"/><circle cx="1047.9" cy="100.8" r="0.79" fill="#7fa6ff" opacity="0.91"/><circle cx="1123.1" cy="107.1" r="0.80" fill="#7fa6ff" opacity="0.73"/><circle cx="1092.3" cy="137.9" r="0.87" fill="#4f7dff" opacity="0.85"/><circle cx="1136.3" cy="102.8" r="0.54" fill="#dfe9ff" opacity="0.86"/><circle cx="1112.0" cy="117.5" r="0.52" fill="#dfe9ff" opacity="0.79"/><circle cx="1127.1" cy="109.0" r="0.81" fill="#4f7dff" opacity="0.70"/><circle cx="1129.8" cy="97.9" r="0.78" fill="#7fa6ff" opacity="0.91"/><circle cx="1133.7" cy="126.1" r="0.69" fill="#7fa6ff" opacity="0.91"/><circle cx="1067.1" cy="136.2" r="1.05" fill="#4f7dff" opacity="0.64"/><circle cx="1099.7" cy="131.7" r="0.91" fill="#4f7dff" opacity="0.63"/><circle cx="1090.1" cy="106.6" r="0.88" fill="#4f7dff" opacity="0.67"/><circle cx="1121.6" cy="107.8" r="0.90" fill="#7fa6ff" opacity="0.95"/><circle cx="1116.7" cy="99.5" r="0.64" fill="#7fa6ff" opacity="0.72"/><circle cx="1093.4" cy="127.3" r="0.56" fill="#7fa6ff" opacity="0.93"/><circle cx="1123.7" cy="103.5" r="0.92" fill="#7fa6ff" opacity="0.67"/><circle cx="1143.6" cy="101.4" r="0.96" fill="#4f7dff" opacity="0.88"/><circle cx="1105.4" cy="107.7" r="0.77" fill="#7fa6ff" opacity="0.69"/><circle cx="1054.8" cy="132.5" r="0.71" fill="#7fa6ff" opacity="0.63"/><circle cx="1117.7" cy="111.2" r="0.38" fill="#dfe9ff" opacity="0.78"/><circle cx="1040.5" cy="120.7" r="0.80" fill="#4f7dff" opacity="0.78"/><circle cx="1118.2" cy="111.2" r="1.06" fill="#4f7dff" opacity="0.68"/><circle cx="1135.0" cy="99.8" r="0.54" fill="#dfe9ff" opacity="0.75"/><circle cx="1129.1" cy="115.8" r="0.43" fill="#dfe9ff" opacity="0.82"/><circle cx="1058.7" cy="149.2" r="0.54" fill="#7fa6ff" opacity="0.67"/><circle cx="1037.2" cy="103.7" r="0.50" fill="#7fa6ff" opacity="0.90"/><circle cx="1109.9" cy="112.1" r="0.77" fill="#4f7dff" opacity="0.71"/><circle cx="1136.8" cy="108.5" r="0.80" fill="#7fa6ff" opacity="0.72"/><circle cx="1031.9" cy="101.6" r="0.71" fill="#4f7dff" opacity="0.70"/><circle cx="1083.8" cy="127.6" r="0.90" fill="#7fa6ff" opacity="0.72"/><circle cx="1091.3" cy="99.5" r="0.71" fill="#7fa6ff" opacity="0.72"/><circle cx="1067.2" cy="100.6" r="0.62" fill="#7fa6ff" opacity="0.72"/><circle cx="1132.6" cy="149.3" r="0.51" fill="#7fa6ff" opacity="0.67"/><circle cx="1120.0" cy="113.1" r="1.17" fill="#4f7dff" opacity="0.77"/><circle cx="1043.0" cy="111.3" r="0.89" fill="#4f7dff" opacity="0.63"/><circle cx="1116.4" cy="118.9" r="0.36" fill="#dfe9ff" opacity="0.66"/><circle cx="1102.3" cy="116.2" r="0.88" fill="#4f7dff" opacity="0.89"/><circle cx="1097.5" cy="130.5" r="1.00" fill="#4f7dff" opacity="0.70"/><circle cx="1071.9" cy="98.6" r="1.16" fill="#4f7dff" opacity="0.77"/><circle cx="1127.5" cy="126.4" r="0.50" fill="#dfe9ff" opacity="0.74"/><circle cx="1060.6" cy="135.3" r="0.91" fill="#7fa6ff" opacity="0.88"/><circle cx="1127.8" cy="106.5" r="1.04" fill="#4f7dff" opacity="0.70"/><circle cx="1027.3" cy="99.5" r="0.77" fill="#4f7dff" opacity="0.83"/><circle cx="1097.2" cy="101.0" r="0.69" fill="#7fa6ff" opacity="0.93"/><circle cx="1031.7" cy="103.3" r="0.83" fill="#7fa6ff" opacity="0.69"/><circle cx="1119.6" cy="117.7" r="0.43" fill="#dfe9ff" opacity="0.85"/><circle cx="1046.1" cy="117.3" r="0.41" fill="#dfe9ff" opacity="0.92"/><circle cx="1130.7" cy="110.6" r="0.89" fill="#7fa6ff" opacity="0.74"/><circle cx="1036.1" cy="115.7" r="0.55" fill="#dfe9ff" opacity="0.79"/><circle cx="1051.0" cy="106.9" r="0.43" fill="#dfe9ff" opacity="0.63"/><circle cx="1136.8" cy="101.9" r="0.43" fill="#dfe9ff" opacity="0.76"/><circle cx="1117.9" cy="112.5" r="0.53" fill="#dfe9ff" opacity="0.66"/><circle cx="1035.0" cy="106.9" r="0.36" fill="#dfe9ff" opacity="0.78"/><circle cx="1145.5" cy="145.4" r="1.01" fill="#4f7dff" opacity="0.89"/><circle cx="1125.4" cy="118.9" r="0.88" fill="#7fa6ff" opacity="0.76"/><circle cx="1029.5" cy="100.5" r="1.04" fill="#4f7dff" opacity="0.82"/><circle cx="1132.8" cy="97.4" r="0.78" fill="#4f7dff" opacity="0.81"/><circle cx="1094.5" cy="133.5" r="0.56" fill="#7fa6ff" opacity="0.76"/><circle cx="1124.1" cy="121.5" r="0.52" fill="#dfe9ff" opacity="0.73"/><circle cx="1093.5" cy="139.4" r="0.37" fill="#dfe9ff" opacity="0.64"/><circle cx="1092.9" cy="103.8" r="0.66" fill="#7fa6ff" opacity="0.81"/><circle cx="1094.3" cy="146.4" r="0.55" fill="#7fa6ff" opacity="0.89"/><circle cx="1110.8" cy="115.4" r="1.20" fill="#4f7dff" opacity="0.80"/><circle cx="1074.7" cy="101.3" r="0.87" fill="#7fa6ff" opacity="0.60"/><circle cx="1061.6" cy="97.1" r="0.81" fill="#7fa6ff" opacity="0.62"/><circle cx="1066.7" cy="101.4" r="0.56" fill="#7fa6ff" opacity="0.66"/><circle cx="1087.1" cy="122.5" r="0.69" fill="#7fa6ff" opacity="0.79"/><circle cx="1132.9" cy="144.1" r="0.43" fill="#dfe9ff" opacity="0.74"/><circle cx="1047.2" cy="116.3" r="0.93" fill="#4f7dff" opacity="0.75"/><circle cx="1059.0" cy="138.7" r="1.05" fill="#4f7dff" opacity="0.73"/><circle cx="1032.9" cy="104.8" r="0.57" fill="#7fa6ff" opacity="0.82"/><circle cx="1121.3" cy="113.3" r="0.58" fill="#7fa6ff" opacity="0.83"/><circle cx="1028.5" cy="101.3" r="0.37" fill="#dfe9ff" opacity="0.74"/><circle cx="1063.2" cy="142.5" r="0.60" fill="#7fa6ff" opacity="0.74"/><circle cx="1087.1" cy="128.1" r="0.80" fill="#7fa6ff" opacity="0.77"/><circle cx="1148.6" cy="107.0" r="0.56" fill="#7fa6ff" opacity="0.77"/><circle cx="1114.9" cy="122.3" r="0.72" fill="#4f7dff" opacity="0.81"/><circle cx="1098.6" cy="112.9" r="0.48" fill="#dfe9ff" opacity="0.73"/><circle cx="1119.0" cy="103.7" r="0.57" fill="#7fa6ff" opacity="0.91"/><circle cx="1065.9" cy="103.1" r="0.86" fill="#4f7dff" opacity="0.87"/><circle cx="1127.5" cy="103.7" r="0.94" fill="#7fa6ff" opacity="0.83"/><circle cx="1055.0" cy="127.1" r="0.69" fill="#7fa6ff" opacity="0.83"/><circle cx="1054.8" cy="109.8" r="1.09" fill="#4f7dff" opacity="0.76"/><circle cx="1051.0" cy="99.8" r="0.67" fill="#7fa6ff" opacity="0.70"/><circle cx="1059.2" cy="136.4" r="1.07" fill="#4f7dff" opacity="0.66"/><circle cx="1048.8" cy="108.9" r="0.80" fill="#7fa6ff" opacity="0.82"/><circle cx="1146.9" cy="104.5" r="0.88" fill="#7fa6ff" opacity="0.91"/><circle cx="1032.5" cy="101.2" r="0.68" fill="#7fa6ff" opacity="0.81"/><circle cx="1112.3" cy="119.3" r="0.32" fill="#dfe9ff" opacity="0.84"/><circle cx="1044.0" cy="104.3" r="0.82" fill="#4f7dff" opacity="0.78"/><circle cx="1097.4" cy="138.8" r="0.39" fill="#dfe9ff" opacity="0.83"/><circle cx="1101.3" cy="126.7" r="0.37" fill="#dfe9ff" opacity="0.71"/><circle cx="1137.6" cy="143.9" r="0.67" fill="#7fa6ff" opacity="0.61"/><circle cx="1129.0" cy="107.2" r="0.85" fill="#7fa6ff" opacity="0.77"/><circle cx="1104.6" cy="109.3" r="0.97" fill="#4f7dff" opacity="0.72"/><circle cx="1052.5" cy="111.0" r="0.95" fill="#7fa6ff" opacity="0.63"/><circle cx="1138.2" cy="146.1" r="0.88" fill="#4f7dff" opacity="0.70"/><circle cx="1103.1" cy="123.2" r="0.54" fill="#7fa6ff" opacity="0.93"/><circle cx="1062.2" cy="138.4" r="0.87" fill="#4f7dff" opacity="0.73"/><circle cx="1109.9" cy="116.7" r="0.68" fill="#7fa6ff" opacity="0.68"/><circle cx="1112.7" cy="115.9" r="0.71" fill="#7fa6ff" opacity="0.67"/><circle cx="1040.2" cy="117.9" r="0.62" fill="#7fa6ff" opacity="0.83"/><circle cx="1093.3" cy="119.8" r="0.99" fill="#4f7dff" opacity="0.67"/><circle cx="1096.3" cy="110.9" r="0.70" fill="#7fa6ff" opacity="0.94"/><circle cx="1132.7" cy="117.4" r="0.46" fill="#dfe9ff" opacity="0.61"/><circle cx="1136.0" cy="148.2" r="0.96" fill="#4f7dff" opacity="0.60"/><circle cx="1091.4" cy="103.9" r="0.53" fill="#dfe9ff" opacity="0.72"/><circle cx="1144.5" cy="103.4" r="0.92" fill="#4f7dff" opacity="0.84"/><circle cx="1131.0" cy="112.3" r="0.34" fill="#dfe9ff" opacity="0.92"/><circle cx="1094.2" cy="120.0" r="0.77" fill="#4f7dff" opacity="0.81"/><circle cx="1121.6" cy="105.9" r="0.81" fill="#7fa6ff" opacity="0.74"/><circle cx="1088.2" cy="127.2" r="0.49" fill="#dfe9ff" opacity="0.86"/><circle cx="1119.8" cy="117.1" r="0.74" fill="#7fa6ff" opacity="0.65"/><circle cx="1087.7" cy="108.7" r="0.49" fill="#dfe9ff" opacity="0.72"/><circle cx="1101.2" cy="119.2" r="0.50" fill="#dfe9ff" opacity="0.70"/><circle cx="1138.4" cy="108.8" r="0.87" fill="#7fa6ff" opacity="0.75"/><circle cx="1139.0" cy="134.6" r="0.36" fill="#dfe9ff" opacity="0.80"/><circle cx="1092.1" cy="131.2" r="0.88" fill="#7fa6ff" opacity="0.61"/><circle cx="1096.7" cy="124.9" r="0.85" fill="#7fa6ff" opacity="0.71"/><circle cx="1094.0" cy="112.2" r="0.51" fill="#dfe9ff" opacity="0.90"/><circle cx="1127.9" cy="112.9" r="0.37" fill="#dfe9ff" opacity="0.60"/><circle cx="1114.8" cy="109.2" r="0.80" fill="#4f7dff" opacity="0.61"/><circle cx="1125.0" cy="105.9" r="0.58" fill="#7fa6ff" opacity="0.74"/><circle cx="1081.2" cy="122.5" r="0.75" fill="#7fa6ff" opacity="0.90"/><circle cx="1105.6" cy="105.1" r="0.56" fill="#7fa6ff" opacity="0.71"/><circle cx="1117.1" cy="112.5" r="0.47" fill="#dfe9ff" opacity="0.83"/><circle cx="1056.4" cy="108.5" r="0.75" fill="#7fa6ff" opacity="0.88"/><circle cx="1025.2" cy="99.1" r="0.49" fill="#dfe9ff" opacity="0.73"/><circle cx="1143.4" cy="144.3" r="0.69" fill="#7fa6ff" opacity="0.61"/><circle cx="1100.7" cy="103.8" r="0.33" fill="#dfe9ff" opacity="0.84"/><circle cx="1099.2" cy="113.0" r="0.43" fill="#dfe9ff" opacity="0.67"/><circle cx="1099.0" cy="140.3" r="0.79" fill="#7fa6ff" opacity="0.63"/><circle cx="1088.0" cy="127.1" r="0.89" fill="#4f7dff" opacity="0.72"/><circle cx="1142.7" cy="142.0" r="1.15" fill="#4f7dff" opacity="0.90"/><circle cx="1131.5" cy="120.1" r="0.55" fill="#dfe9ff" opacity="0.83"/><circle cx="1026.8" cy="103.8" r="0.62" fill="#7fa6ff" opacity="0.82"/><circle cx="1083.3" cy="117.6" r="0.52" fill="#7fa6ff" opacity="0.67"/></g><g filter="url(#b03)"><circle cx="1039.41" cy="178.85" r="9" fill="#0b1c4c" stroke="#20407f" stroke-width="1.8"/><path d="M1034.91 186.64 A9 9 0 1 1 1048.27 180.41" fill="none" stroke="#3fe0b4" stroke-width="2.4" stroke-linecap="round"/><circle cx="1039.41" cy="178.85" r="5.6" fill="#17408f"/><text x="1039.41" y="180.95" text-anchor="middle" font-size="6.4" font-weight="bold" fill="#b6ecf2">81</text><text x="1039.41" y="196.07" text-anchor="middle" font-size="3.8" fill="#d5e2f5">达标率%</text><circle cx="1070.16" cy="178.85" r="9" fill="#0b1c4c" stroke="#20407f" stroke-width="1.8"/><path d="M1065.66 186.64 A9 9 0 1 1 1079.02 180.41" fill="none" stroke="#34c8ee" stroke-width="2.4" stroke-linecap="round"/><circle cx="1070.16" cy="178.85" r="5.6" fill="#17408f"/><text x="1070.16" y="180.95" text-anchor="middle" font-size="6.4" font-weight="bold" fill="#b6ecf2">73</text><text x="1070.16" y="196.07" text-anchor="middle" font-size="3.8" fill="#d5e2f5">完成率%</text><circle cx="1100.92" cy="178.85" r="9" fill="#0b1c4c" stroke="#20407f" stroke-width="1.8"/><path d="M1096.42 186.64 A9 9 0 1 1 1109.78 180.41" fill="none" stroke="#e6b4ee" stroke-width="2.4" stroke-linecap="round"/><circle cx="1100.92" cy="178.85" r="5.6" fill="#17408f"/><text x="1100.92" y="180.95" text-anchor="middle" font-size="6.4" font-weight="bold" fill="#b6ecf2">46</text><text x="1100.92" y="196.07" text-anchor="middle" font-size="3.8" fill="#d5e2f5">回收率%</text><circle cx="1131.67" cy="178.85" r="9" fill="#0b1c4c" stroke="#20407f" stroke-width="1.8"/><path d="M1127.17 186.64 A9 9 0 1 1 1140.53 180.41" fill="none" stroke="#34c8ee" stroke-width="2.4" stroke-linecap="round"/><circle cx="1131.67" cy="178.85" r="5.6" fill="#17408f"/><text x="1131.67" y="180.95" text-anchor="middle" font-size="6.4" font-weight="bold" fill="#b6ecf2">38</text><text x="1131.67" y="196.07" text-anchor="middle" font-size="3.8" fill="#d5e2f5">增长率%</text><path d="M965.70 177.66 A11.60 11.60 0 1 1 984.64 190.92" fill="none" stroke="#3a90ea" stroke-width="6.00"/><path d="M984.64 190.92 A11.60 11.60 0 0 1 973.74 194.88" fill="none" stroke="#2fd0ea" stroke-width="6.00"/><path d="M973.74 194.88 A11.60 11.60 0 0 1 964.85 187.43" fill="none" stroke="#f0a232" stroke-width="6.00"/><path d="M964.85 187.43 A11.60 11.60 0 0 1 965.70 177.66" fill="none" stroke="#2fc4e4" stroke-width="6.00"/><line x1="948.07" y1="166.55" x2="968.06" y2="166.55" stroke="#f0a232" stroke-width="1.8" stroke-dasharray="1.7 0.45" opacity="0.9"/><line x1="941.92" y1="173.31" x2="958.83" y2="173.31" stroke="#dfe7f5" stroke-width="1.8" stroke-dasharray="1.7 0.45" opacity="0.9"/><line x1="940.38" y1="181.93" x2="957.29" y2="181.93" stroke="#dfe7f5" stroke-width="1.8" stroke-dasharray="1.7 0.45" opacity="0.9"/><line x1="938.84" y1="197.92" x2="958.22" y2="197.92" stroke="#dfe7f5" stroke-width="1.8" stroke-dasharray="1.7 0.45" opacity="0.9"/><line x1="994.2" y1="170.24" x2="1012.65" y2="170.24" stroke="#dfe7f5" stroke-width="1.8" stroke-dasharray="1.7 0.45" opacity="0.9"/><line x1="994.2" y1="197.92" x2="1012.65" y2="197.92" stroke="#dfe7f5" stroke-width="1.8" stroke-dasharray="1.7 0.45" opacity="0.9"/><path d="M938.84 199.76 H1012.65" stroke="#2a4a96" stroke-width="0.4"/><line x1="1175.65" y1="169.62" x2="1217.17" y2="169.62" stroke="#3a5aa6" stroke-width="0.35"/><line x1="1175.65" y1="175.78" x2="1217.17" y2="175.78" stroke="#3a5aa6" stroke-width="0.35"/><line x1="1175.65" y1="181.93" x2="1217.17" y2="181.93" stroke="#3a5aa6" stroke-width="0.35"/><line x1="1175.65" y1="188.08" x2="1217.17" y2="188.08" stroke="#3a5aa6" stroke-width="0.35"/><line x1="1175.65" y1="194.23" x2="1217.17" y2="194.23" stroke="#3a5aa6" stroke-width="0.35"/><polyline points="1178.73,193.18 1183.38,189.89 1188.03,188.46 1192.68,186.77 1197.34,186.22 1201.99,184.82 1206.64,183.0 1211.29,180.7 1215.94,179.68" fill="none" stroke="#e84c8a" stroke-width="0.55" stroke-dasharray="1 0.7"/><polyline points="1178.73,190.89 1183.38,187.95 1188.03,188.35 1192.68,186.46 1197.34,183.95 1201.99,182.67 1206.64,179.11 1211.29,178.33 1215.94,174.55" fill="none" stroke="#f0d23c" stroke-width="0.55" stroke-dasharray="1 0.7"/><polyline points="1178.73,190.67 1183.38,188.25 1188.03,186.6 1192.68,183.94 1197.34,181.74 1201.99,177.52 1206.64,176.78 1211.29,173.48 1215.94,170.65" fill="none" stroke="#3fd07a" stroke-width="0.55" stroke-dasharray="1 0.7"/><polyline points="1178.73,188.6 1183.38,187.18 1188.03,184.58 1192.68,181.85 1197.34,178.57 1201.99,174.3 1206.64,171.52 1211.29,170.24 1215.94,170.24" fill="none" stroke="#5aa0f0" stroke-width="0.55" stroke-dasharray="1 0.7"/><polyline points="1178.73,187.57 1183.38,183.72 1188.03,180.74 1192.68,179.33 1197.34,174.68 1201.99,173.46 1206.64,170.24 1211.29,170.24 1215.94,170.24" fill="none" stroke="#e8742c" stroke-width="0.55" stroke-dasharray="1 0.7"/><line x1="1161.81" y1="170.24" x2="1171.04" y2="170.24" stroke="#e84c8a" stroke-width="1.6" stroke-dasharray="1.7 0.45" opacity="0.9"/><line x1="1161.81" y1="174.85" x2="1171.04" y2="174.85" stroke="#d8402c" stroke-width="1.6" stroke-dasharray="1.7 0.45" opacity="0.9"/><line x1="1161.81" y1="179.47" x2="1171.04" y2="179.47" stroke="#e84c8a" stroke-width="1.6" stroke-dasharray="1.7 0.45" opacity="0.9"/><line x1="1161.81" y1="184.08" x2="1171.04" y2="184.08" stroke="#d8402c" stroke-width="1.6" stroke-dasharray="1.7 0.45" opacity="0.9"/><line x1="1161.81" y1="188.69" x2="1171.04" y2="188.69" stroke="#5a70f0" stroke-width="1.6" stroke-dasharray="1.7 0.45" opacity="0.9"/><line x1="1161.81" y1="193.31" x2="1171.04" y2="193.31" stroke="#5a70f0" stroke-width="1.6" stroke-dasharray="1.7 0.45" opacity="0.9"/><line x1="1214.1" y1="169.01" x2="1232.55" y2="169.01" stroke="#f0d23c" stroke-width="1.8" stroke-dasharray="1.7 0.45" opacity="0.9"/><line x1="1214.1" y1="173.62" x2="1232.55" y2="173.62" stroke="#f0d23c" stroke-width="1.8" stroke-dasharray="1.7 0.45" opacity="0.9"/><line x1="1214.1" y1="178.24" x2="1232.55" y2="178.24" stroke="#3fd07a" stroke-width="1.8" stroke-dasharray="1.7 0.45" opacity="0.9"/><line x1="1214.1" y1="182.85" x2="1232.55" y2="182.85" stroke="#f0d23c" stroke-width="1.8" stroke-dasharray="1.7 0.45" opacity="0.9"/><line x1="1214.1" y1="187.46" x2="1232.55" y2="187.46" stroke="#3fd07a" stroke-width="1.8" stroke-dasharray="1.7 0.45" opacity="0.9"/><line x1="1214.1" y1="192.08" x2="1232.55" y2="192.08" stroke="#f0d23c" stroke-width="1.8" stroke-dasharray="1.7 0.45" opacity="0.9"/><line x1="1178.73" y1="197.92" x2="1182.11" y2="197.92" stroke="#c9d8f2" stroke-width="1.4" stroke-dasharray="1.7 0.45" opacity="0.8"/><line x1="1184.26" y1="197.92" x2="1187.65" y2="197.92" stroke="#c9d8f2" stroke-width="1.4" stroke-dasharray="1.7 0.45" opacity="0.8"/><line x1="1189.8" y1="197.92" x2="1193.18" y2="197.92" stroke="#c9d8f2" stroke-width="1.4" stroke-dasharray="1.7 0.45" opacity="0.8"/><line x1="1195.34" y1="197.92" x2="1198.72" y2="197.92" stroke="#c9d8f2" stroke-width="1.4" stroke-dasharray="1.7 0.45" opacity="0.8"/><line x1="1200.87" y1="197.92" x2="1204.26" y2="197.92" stroke="#c9d8f2" stroke-width="1.4" stroke-dasharray="1.7 0.45" opacity="0.8"/><line x1="1206.41" y1="197.92" x2="1209.79" y2="197.92" stroke="#c9d8f2" stroke-width="1.4" stroke-dasharray="1.7 0.45" opacity="0.8"/><line x1="1211.94" y1="197.92" x2="1215.33" y2="197.92" stroke="#c9d8f2" stroke-width="1.4" stroke-dasharray="1.7 0.45" opacity="0.8"/></g></g><text class="serif" transform="translate(1022.8,221) scale(1.075,1)" font-size="17.2" font-weight="bold" fill="#4d4945" letter-spacing="0.1" filter="url(#b05)">监控中心大屏</text></g><g><ellipse cx="1092.47" cy="388.81" rx="58" ry="10" fill="#cfcfcf" opacity="0.55" filter="url(#b4)"/><g filter="url(#b05)"><polygon points="1086.76,311.10 1111.56,303.70 1111.56,388.08 1088.37,372.62" fill="url(#pcTowerS)"/><polygon points="1111.56,303.70 1146.34,304.98 1144.73,384.53 1111.56,388.08" fill="#2b2b2c"/><polygon points="1113.66,306.27 1144.09,306.92 1143.12,383.24 1134.75,385.50 1120.26,386.14 1113.66,385.18" fill="#e9eaec"/><polygon points="1116.39,308.53 1141.84,309.17 1141.51,348.14 1138.94,349.43 1138.94,360.70 1118.65,361.02 1118.65,349.43 1116.39,348.14" fill="#2e2e30"/><polygon points="1117.36,310.46 1141.19,310.94 1141.19,315.93 1117.36,315.61" fill="#3e3e41"/><polygon points="1117.36,316.26 1141.19,316.74 1141.19,317.87 1117.36,317.54" fill="#97979a"/><polygon points="1136.68,315.93 1139.90,316.10 1139.90,317.87 1136.68,317.71" fill="#f0f0f0"/><polygon points="1117.36,320.76 1141.19,321.25 1141.19,326.24 1117.36,325.92" fill="#3e3e41"/><polygon points="1117.36,326.56 1141.19,327.05 1141.19,328.17 1117.36,327.85" fill="#97979a"/><polygon points="1136.68,326.24 1139.90,326.40 1139.90,328.17 1136.68,328.01" fill="#f0f0f0"/><polygon points="1117.36,330.75 1141.19,331.23 1141.19,331.71 1117.36,331.23" fill="#454548"/><polygon points="1117.36,337.19 1141.19,337.67 1141.19,338.16 1117.36,337.67" fill="#454548"/><polygon points="1117.36,343.31 1141.19,343.79 1141.19,344.28 1117.36,343.79" fill="#454548"/><polygon points="1117.36,349.43 1141.19,349.91 1141.19,350.39 1117.36,349.91" fill="#454548"/><polygon points="1117.36,354.90 1141.19,355.39 1141.19,355.87 1117.36,355.39" fill="#454548"/><polygon points="1114.14,363.44 1122.19,367.79 1114.46,371.97" fill="#2c2c2d"/><polygon points="1143.45,363.92 1135.39,367.79 1143.12,371.97" fill="#2c2c2d"/><polygon points="1114.14,375.19 1121.22,373.26 1118.65,378.74 1114.46,383.24" fill="#2c2c2d"/><polygon points="1143.12,375.19 1136.36,373.26 1138.62,378.74 1142.80,382.92" fill="#2c2c2d"/><polygon points="1120.58,383.89 1128.31,381.63 1135.72,383.57 1134.75,385.50 1121.22,386.14" fill="#2c2c2d"/><polygon points="1122.19,362.63 1135.39,362.63 1133.14,365.21 1124.44,365.21" fill="#c9cacc"/><circle cx="1128.63" cy="373.58" r="1.1" fill="#5a5a5c"/><circle cx="1128.63" cy="378.41" r="0.8" fill="#8a8a8c"/><polygon points="1044.89,374.54 1059.9,374.54 1060.63,385.52 1044.16,385.88" fill="#2f2f30"/><polygon points="1030.62,385.88 1044.89,382.41 1070.51,381.49 1076.37,389.91 1031.35,392.84" fill="#4a4a4c"/><polygon points="1031.35,391.74 1076.37,388.99 1076.37,390.27 1031.35,393.2" fill="#2a2a2b"/><polygon points="1009.4,313.79 1088.08,313.79 1088.08,375.27 1011.96,375.27" fill="#39393b"/><polygon points="1012.87,316.72 1086.61,316.72 1086.61,371.61 1014.34,371.61" fill="url(#pcScr)"/><g clip-path="url(#pcScrClip)"><path d="M1012.87 344.89 C1035.75 350.38 1050.38 326.6 1086.61 319.28 L1086.61 332.09 C1059.53 337.58 1044.89 363.19 1012.87 359.53 Z" fill="#6cc0f0" opacity="0.35"/><path d="M1026.6 371.61 C1037.58 359.53 1063.19 350.38 1086.61 350.38 L1086.61 371.61 Z" fill="#1f74c4" opacity="0.45"/><g fill="#dff4fd" opacity="0.92" filter="url(#b03)"><polygon points="1017.45,328.21 1019.83,326.81 1023.00,327.09 1025.98,327.09 1028.95,327.65 1031.93,326.52 1034.51,326.24 1035.30,327.65 1037.88,329.90 1039.66,332.15 1037.68,334.13 1036.89,334.97 1035.70,336.94 1034.70,338.07 1034.90,339.76 1034.31,338.63 1032.92,338.63 1031.53,339.47 1031.53,341.16 1032.52,341.73 1033.32,340.88 1033.51,342.29 1034.31,343.98 1035.30,344.54 1034.90,344.82 1033.91,343.70 1032.52,342.85 1031.73,342.29 1029.94,341.16 1028.95,340.04 1028.36,338.35 1027.56,337.50 1026.57,336.38 1026.18,334.97 1026.18,333.28 1024.99,331.59 1023.40,330.18 1021.02,329.90 1019.43,330.75 1018.04,329.90"/><polygon points="1039.86,329.90 1042.24,329.90 1045.81,327.09 1046.80,325.40 1044.82,323.71 1040.85,323.71 1037.28,324.84 1039.86,327.09"/><polygon points="1035.30,344.54 1036.49,343.42 1038.47,343.98 1040.46,345.39 1040.85,346.79 1043.23,348.20 1043.83,349.05 1043.03,351.02 1042.44,353.27 1041.25,354.39 1040.06,356.36 1039.27,357.49 1037.88,358.62 1037.28,360.87 1036.49,361.71 1035.89,360.31 1036.29,357.49 1036.69,355.24 1036.89,351.86 1035.70,350.45 1034.70,348.20 1034.90,346.79"/><polygon points="1048.98,336.38 1048.98,334.69 1050.37,334.41 1049.97,333.28 1051.16,332.44 1052.35,331.59 1052.35,330.75 1051.76,329.90 1051.96,329.06 1053.54,327.65 1055.73,326.81 1056.72,327.09 1058.70,327.93 1059.49,328.21 1062.67,327.65 1062.67,331.31 1060.68,333.56 1058.70,333.56 1058.30,334.41 1056.72,334.13 1056.32,335.25 1055.53,336.10 1055.13,336.38 1054.73,335.53 1053.74,336.10 1053.94,335.25 1053.15,334.41 1052.35,334.41 1051.36,334.69 1050.77,335.81 1049.78,336.66"/><polygon points="1047.40,342.57 1047.59,340.88 1048.78,338.91 1049.58,336.94 1052.75,336.38 1052.95,337.50 1054.73,337.79 1055.73,338.07 1057.31,338.07 1057.71,340.04 1058.30,341.73 1059.30,343.42 1060.88,343.42 1060.29,345.39 1059.10,347.36 1058.50,349.05 1058.70,351.02 1057.71,352.99 1057.11,354.68 1056.12,356.36 1054.54,356.65 1053.94,354.68 1053.15,351.58 1053.35,349.05 1052.55,347.07 1052.55,345.67 1051.56,345.10 1049.97,345.39 1049.18,345.67 1048.19,344.54"/><polygon points="1062.67,327.65 1064.65,326.24 1067.62,325.96 1070.60,324.84 1072.98,325.40 1076.55,326.52 1080.52,326.81 1084.48,327.09 1086.47,327.93 1086.07,329.06 1083.49,329.90 1082.50,331.59 1081.71,332.44 1081.51,330.47 1079.13,330.18 1078.53,331.59 1077.54,334.13 1076.55,334.97 1075.95,336.10 1075.76,336.94 1074.96,335.81 1074.17,336.10 1074.76,338.07 1074.57,339.47 1073.38,340.60 1072.19,340.88 1071.79,341.73 1072.38,343.42 1071.59,344.26 1070.60,343.13 1070.40,344.54 1071.19,346.23 1070.20,344.54 1070.00,342.29 1069.41,342.01 1068.62,340.60 1067.82,341.16 1066.63,342.57 1066.24,344.54 1065.24,342.29 1065.05,340.88 1064.06,339.76 1062.27,339.76 1062.07,341.16 1061.08,342.29 1059.49,343.13 1059.30,342.01 1058.50,340.88 1057.71,338.91 1057.91,336.66 1056.32,336.38 1056.32,335.25 1058.30,334.41 1058.70,333.56 1060.68,333.56 1062.67,331.31"/><polygon points="1069.81,345.39 1071.39,348.20 1073.38,349.05 1074.57,349.33 1075.56,349.05 1074.17,347.92 1073.97,345.67 1072.58,346.23 1071.39,346.51"/><polygon points="1076.95,347.36 1078.53,347.64 1080.52,349.05 1079.52,349.05 1077.54,348.20"/><polygon points="1076.55,337.79 1077.54,337.22 1078.53,336.66 1078.93,335.53 1078.73,334.41 1079.33,334.41 1078.73,336.10 1077.94,336.94"/><polygon points="1074.57,341.73 1074.96,342.85 1075.56,344.54 1074.96,344.26 1074.57,343.13"/><polygon points="1073.38,352.99 1074.96,351.58 1076.55,350.17 1077.94,350.17 1077.74,351.30 1078.73,350.45 1079.72,352.14 1081.11,354.11 1080.71,356.36 1079.72,357.77 1078.53,357.49 1077.54,356.36 1076.35,355.80 1075.16,356.36 1073.57,356.36 1073.38,354.39"/><polygon points="1085.08,356.65 1086.07,357.49 1085.47,358.34 1084.88,358.34 1083.89,359.74 1084.68,358.90"/><polygon points="1060.49,350.17 1060.68,351.58 1060.09,353.83 1059.49,353.27 1059.49,351.58"/><polygon points="1049.78,332.72 1050.97,332.44 1050.77,331.59 1050.37,330.75 1049.78,330.47 1049.58,331.31 1050.17,331.87"/><polygon points="1046.01,328.50 1047.99,328.50 1047.79,328.07 1046.40,328.07"/></g></g><rect x="1062.28" y="372.34" width="3" height="1.3" fill="#8c8c8c"/><polygon points="1003.91,395.76 1107.11,388.44 1117.54,401.25 1114.43,404.18 1000.61,416.26 999.15,412.96" fill="url(#pcKb)"/><polygon points="1006.83,397.96 1105.28,391.01 1112.23,400.16 1004.64,410.77" fill="#1c1c1d"/><line x1="1006.83" y1="397.96" x2="1105.28" y2="391.01" stroke="#3a3a3c" stroke-width="0.5"/><line x1="1006.4" y1="400.52" x2="1106.67" y2="392.84" stroke="#3a3a3c" stroke-width="0.5"/><line x1="1005.96" y1="403.08" x2="1108.06" y2="394.67" stroke="#3a3a3c" stroke-width="0.5"/><line x1="1005.52" y1="405.65" x2="1109.45" y2="396.5" stroke="#3a3a3c" stroke-width="0.5"/><line x1="1005.08" y1="408.21" x2="1110.84" y2="398.33" stroke="#3a3a3c" stroke-width="0.5"/><line x1="1006.83" y1="397.96" x2="1004.64" y2="410.77" stroke="#343436" stroke-width="0.45"/><line x1="1013.4" y1="397.5" x2="1011.81" y2="410.06" stroke="#343436" stroke-width="0.45"/><line x1="1019.96" y1="397.03" x2="1018.98" y2="409.35" stroke="#343436" stroke-width="0.45"/><line x1="1026.52" y1="396.57" x2="1026.16" y2="408.65" stroke="#343436" stroke-width="0.45"/><line x1="1033.09" y1="396.11" x2="1033.33" y2="407.94" stroke="#343436" stroke-width="0.45"/><line x1="1039.65" y1="395.64" x2="1040.5" y2="407.23" stroke="#343436" stroke-width="0.45"/><line x1="1046.21" y1="395.18" x2="1047.68" y2="406.52" stroke="#343436" stroke-width="0.45"/><line x1="1052.78" y1="394.71" x2="1054.85" y2="405.82" stroke="#343436" stroke-width="0.45"/><line x1="1059.34" y1="394.25" x2="1062.02" y2="405.11" stroke="#343436" stroke-width="0.45"/><line x1="1065.9" y1="393.79" x2="1069.19" y2="404.4" stroke="#343436" stroke-width="0.45"/><line x1="1072.46" y1="393.32" x2="1076.37" y2="403.69" stroke="#343436" stroke-width="0.45"/><line x1="1079.03" y1="392.86" x2="1083.54" y2="402.99" stroke="#343436" stroke-width="0.45"/><line x1="1085.59" y1="392.4" x2="1090.71" y2="402.28" stroke="#343436" stroke-width="0.45"/><line x1="1092.15" y1="391.93" x2="1097.89" y2="401.57" stroke="#343436" stroke-width="0.45"/><line x1="1098.72" y1="391.47" x2="1105.06" y2="400.86" stroke="#343436" stroke-width="0.45"/><line x1="1105.28" y1="391.01" x2="1112.23" y2="400.16" stroke="#343436" stroke-width="0.45"/><polygon points="1119.55,394.67 1155.6,390.27 1172.25,399.42 1131.26,403.08" fill="#58585a"/><ellipse cx="1144.07" cy="394.3" rx="8.2" ry="4.4" fill="#2e2e30" transform="rotate(18 1144.07 394.3)"/><ellipse cx="1144.8" cy="393.57" rx="6.4" ry="2.6" fill="#c9cacc" transform="rotate(18 1144.8 393.57)"/><ellipse cx="1142.97" cy="392.47" rx="3.4" ry="1.6" fill="#3a3a3c" transform="rotate(18 1142.97 392.47)"/></g></g><g><g filter="url(#b05)"><rect x="1046.92" y="475.81" width="53.51" height="71.16" rx="5.5" fill="#111214" /><rect x="1048.5" y="485.3" width="50.61" height="61.68" rx="0" fill="#fbfbfc" /><rect x="1048.5" y="485.3" width="50.61" height="2.64" rx="0" fill="#4b3f8f" /><rect x="1048.5" y="487.94" width="50.61" height="5.80" rx="0" fill="#f4f6f9" /><text x="1068.0" y="492.68" font-size="3.6" fill="#444">设备状态</text><circle cx="1054.82" cy="497.16" r="1.4" fill="#2db46c"/><rect x="1049.55" y="496.37" width="3.69" height="1.58" rx="0" fill="#5a6270" /><circle cx="1065.37" cy="497.16" r="1.4" fill="#f0a020"/><rect x="1060.09" y="496.37" width="3.69" height="1.58" rx="0" fill="#5a6270" /><circle cx="1076.44" cy="497.16" r="1.4" fill="#e8d020"/><rect x="1071.16" y="496.37" width="3.69" height="1.58" rx="0" fill="#5a6270" /><circle cx="1086.98" cy="497.16" r="1.4" fill="#e03a3a"/><rect x="1081.71" y="496.37" width="3.69" height="1.58" rx="0" fill="#5a6270" /><circle cx="1097.0" cy="497.16" r="1.4" fill="#2b8fe8"/><rect x="1091.72" y="496.37" width="3.69" height="1.58" rx="0" fill="#5a6270" /><rect x="1048.5" y="499.54" width="50.61" height="0.53" rx="0" fill="#e4e6ea" /><rect x="1050.61" y="503.75" width="7.91" height="1.58" rx="0" fill="#555b66" /><rect x="1048.5" y="507.44" width="50.61" height="0.40" rx="0" fill="#e4e6ea" /><rect x="1050.61" y="510.08" width="7.91" height="1.58" rx="0" fill="#555b66" /><rect x="1048.5" y="513.77" width="50.61" height="0.40" rx="0" fill="#e4e6ea" /><rect x="1048.5" y="514.3" width="50.61" height="32.68" rx="0" fill="#f1f2f4" /><circle cx="1090.93" cy="480.3" r="0.7" fill="#3a3f55"/><rect x="1072.48" y="529.85" width="52.98" height="102.00" rx="5.5" fill="#0e0f11" /><rect x="1074.59" y="539.07" width="49.29" height="84.34" rx="0" fill="#ffffff" /><rect x="1074.59" y="539.07" width="49.29" height="2.64" rx="0" fill="#c8902a" /><rect x="1074.59" y="541.71" width="49.29" height="9.49" rx="0" fill="#3fa8f4" /><text x="1090.41" y="548.03" font-size="4" fill="#eaf6ff">设备分布</text><rect x="1076.44" y="554.36" width="21.61" height="3.69" rx="0" fill="#f0f2f5" /><rect x="1076.44" y="562.27" width="2.64" height="2.11" rx="0" fill="#444" /><rect x="1082.24" y="561.74" width="10.54" height="3.16" rx="0" fill="#f3a53a" /><rect x="1076.44" y="567.54" width="2.64" height="2.11" rx="0" fill="#444" /><rect x="1083.82" y="567.54" width="8.96" height="2.11" rx="0" fill="#555b66" /><rect x="1075.91" y="575.45" width="7.91" height="1.58" rx="0" fill="#444" /><rect x="1075.91" y="579.14" width="3.16" height="2.11" rx="0" fill="#f0a020" /><rect x="1079.86" y="579.4" width="5.01" height="1.58" rx="0" fill="#6a7080" /><rect x="1086.98" y="579.14" width="3.16" height="2.11" rx="0" fill="#2b8fe8" /><rect x="1090.93" y="579.4" width="5.01" height="1.58" rx="0" fill="#6a7080" /><rect x="1075.91" y="582.83" width="3.16" height="2.11" rx="0" fill="#2db46c" /><rect x="1079.86" y="583.09" width="5.01" height="1.58" rx="0" fill="#6a7080" /><rect x="1086.98" y="582.83" width="3.16" height="2.11" rx="0" fill="#b8c820" /><rect x="1090.93" y="583.09" width="5.01" height="1.58" rx="0" fill="#6a7080" /><path d="M1092.86 597.06 A7.2 7.2 0 1 1 1083.20 590.29" fill="none" stroke="#3487d6" stroke-width="4.2"/><path d="M1083.20 590.29 A7.2 7.2 0 0 1 1088.12 590.29" fill="none" stroke="#38a860" stroke-width="4.2"/><path d="M1088.12 590.29 A7.2 7.2 0 0 1 1092.86 597.06" fill="none" stroke="#f2a82c" stroke-width="4.2"/><rect x="1076.44" y="610.76" width="9.23" height="1.85" rx="0" fill="#3fa8f4" /><rect x="1074.59" y="615.51" width="49.29" height="7.91" rx="0" fill="#f7f8fa" /><circle cx="1080.39" cy="618.94" r="1.1" fill="#b8bcc4"/><circle cx="1092.25" cy="618.94" r="1.1" fill="#b8bcc4"/><circle cx="1104.11" cy="618.94" r="1.1" fill="#b8bcc4"/><circle cx="1117.29" cy="618.94" r="1.3" fill="#3fa8f4"/><circle cx="1098.58" cy="627.63" r="1.3" fill="none" stroke="#8a8a8a" stroke-width="0.5"/><rect x="1019.77" y="516.67" width="51.66" height="100.69" rx="5.5" fill="#0c0d0f" /><rect x="1021.61" y="525.89" width="48.50" height="80.65" rx="0" fill="url(#phB)" /><rect x="1021.61" y="525.89" width="48.50" height="2.11" rx="0" fill="#3a3f8a" /><ellipse cx="1039.54" cy="598.38" rx="22" ry="6" fill="#d9f0ee" opacity="0.45" filter="url(#b2)"/><ellipse cx="1057.99" cy="591.79" rx="14" ry="5" fill="#e6f6f4" opacity="0.4" filter="url(#b2)"/><text x="1045.86" y="545.66" text-anchor="middle" font-size="4.3" fill="#d9eef4" letter-spacing="0.4">设备运维监控平台</text><rect x="1029.52" y="553.57" width="32.42" height="6.06" rx="0.8" fill="#f4f7f9" /><rect x="1029.52" y="562.79" width="32.42" height="5.80" rx="0.8" fill="#f4f7f9" /><rect x="1030.05" y="572.02" width="16.87" height="5.80" rx="0.8" fill="#f4f7f9" /><rect x="1049.55" y="572.55" width="11.07" height="5.27" rx="0.8" fill="#cfe2d8" /><rect x="1051.66" y="573.86" width="6.85" height="2.64" rx="0.5" fill="#b04848" opacity="0.6"/><rect x="1030.05" y="580.72" width="31.37" height="5.80" rx="1.2" fill="#2d9bf0" /><text x="1045.6" y="585.2" text-anchor="middle" font-size="3.4" fill="#e4f3ff">登录</text><rect x="1031.63" y="555.68" width="10.54" height="1.58" rx="0" fill="#b9c2c9" /><rect x="1031.63" y="564.9" width="10.54" height="1.58" rx="0" fill="#b9c2c9" /><rect x="1031.63" y="574.13" width="10.54" height="1.58" rx="0" fill="#b9c2c9" /><rect x="1032.95" y="602.59" width="26.36" height="1.32" rx="0" fill="#9fd6dc" opacity="0.7"/><circle cx="1034.26" cy="611.29" r="1" fill="#4a4c50"/><circle cx="1045.33" cy="611.29" r="1" fill="#4a4c50"/><circle cx="1056.4" cy="611.29" r="1" fill="#4a4c50"/><circle cx="1062.73" cy="521.15" r="0.7" fill="#3a3f55"/><rect x="1098.84" y="506.13" width="52.98" height="103.06" rx="5.5" fill="#0c0d0f" /><rect x="1100.69" y="515.35" width="49.82" height="84.61" rx="0" fill="#fdfdfd" /><rect x="1100.69" y="515.35" width="49.82" height="2.90" rx="0" fill="#4b3f8f" /><rect x="1100.69" y="518.25" width="49.82" height="4.48" rx="0" fill="#f4f6f9" /><text x="1118.61" y="521.94" font-size="3.4" fill="#444">数据曲线</text><rect x="1105.96" y="524.05" width="31.10" height="10.28" rx="0" fill="#f7d6d0" /><rect x="1107.01" y="524.84" width="0.79" height="9.23" rx="0" fill="#e0584a" opacity="0.8"/><rect x="1109.12" y="524.84" width="0.79" height="9.23" rx="0" fill="#e0584a" opacity="0.8"/><rect x="1111.23" y="524.84" width="0.79" height="9.23" rx="0" fill="#e0584a" opacity="0.8"/><rect x="1113.34" y="524.84" width="0.79" height="9.23" rx="0" fill="#e0584a" opacity="0.8"/><rect x="1115.45" y="524.84" width="0.79" height="9.23" rx="0" fill="#e0584a" opacity="0.8"/><rect x="1117.55" y="524.84" width="0.79" height="9.23" rx="0" fill="#e0584a" opacity="0.8"/><rect x="1119.66" y="524.84" width="0.79" height="9.23" rx="0" fill="#e0584a" opacity="0.8"/><rect x="1121.77" y="524.84" width="0.79" height="9.23" rx="0" fill="#e0584a" opacity="0.8"/><rect x="1123.88" y="524.84" width="0.79" height="9.23" rx="0" fill="#e0584a" opacity="0.8"/><rect x="1125.99" y="524.84" width="0.79" height="9.23" rx="0" fill="#e0584a" opacity="0.8"/><rect x="1128.1" y="524.84" width="0.79" height="9.23" rx="0" fill="#e0584a" opacity="0.8"/><rect x="1130.21" y="524.84" width="0.79" height="9.23" rx="0" fill="#e0584a" opacity="0.8"/><rect x="1132.31" y="524.84" width="0.79" height="9.23" rx="0" fill="#e0584a" opacity="0.8"/><rect x="1134.42" y="524.84" width="0.79" height="9.23" rx="0" fill="#e0584a" opacity="0.8"/><rect x="1104.9" y="525.89" width="38.75" height="0.40" rx="0" fill="#e8a8a0" opacity="0.8"/><rect x="1104.9" y="529.06" width="38.75" height="0.40" rx="0" fill="#e8a8a0" opacity="0.8"/><rect x="1104.9" y="532.22" width="38.75" height="0.40" rx="0" fill="#e8a8a0" opacity="0.8"/><rect x="1104.11" y="534.86" width="41.38" height="0.53" rx="0" fill="#9aa0aa" /><rect x="1104.9" y="536.17" width="3.69" height="1.05" rx="0" fill="#7a808a" /><rect x="1111.76" y="536.17" width="3.69" height="1.05" rx="0" fill="#7a808a" /><rect x="1118.61" y="536.17" width="3.69" height="1.05" rx="0" fill="#7a808a" /><rect x="1125.46" y="536.17" width="3.69" height="1.05" rx="0" fill="#7a808a" /><rect x="1132.31" y="536.17" width="3.69" height="1.05" rx="0" fill="#7a808a" /><rect x="1139.69" y="536.17" width="3.69" height="1.05" rx="0" fill="#7a808a" /><circle cx="1105.69" cy="538.02" r="1.2" fill="#3487d6"/><circle cx="1137.06" cy="538.02" r="1.2" fill="#3487d6"/><rect x="1104.9" y="540.65" width="40.59" height="0.32" rx="0" fill="#d4d7dc" /><rect x="1104.9" y="543.82" width="40.59" height="0.32" rx="0" fill="#d4d7dc" /><rect x="1104.9" y="546.98" width="40.59" height="0.32" rx="0" fill="#d4d7dc" /><rect x="1104.9" y="550.14" width="40.59" height="0.32" rx="0" fill="#d4d7dc" /><rect x="1104.9" y="553.31" width="40.59" height="0.32" rx="0" fill="#d4d7dc" /><rect x="1104.9" y="556.47" width="40.59" height="0.32" rx="0" fill="#d4d7dc" /><rect x="1104.11" y="559.63" width="41.38" height="0.53" rx="0" fill="#9aa0aa" /><rect x="1104.9" y="560.95" width="3.69" height="1.05" rx="0" fill="#7a808a" /><rect x="1111.76" y="560.95" width="3.69" height="1.05" rx="0" fill="#7a808a" /><rect x="1118.61" y="560.95" width="3.69" height="1.05" rx="0" fill="#7a808a" /><rect x="1125.46" y="560.95" width="3.69" height="1.05" rx="0" fill="#7a808a" /><rect x="1132.31" y="560.95" width="3.69" height="1.05" rx="0" fill="#7a808a" /><rect x="1139.69" y="560.95" width="3.69" height="1.05" rx="0" fill="#7a808a" /><circle cx="1105.69" cy="563.32" r="1.2" fill="#3487d6"/><circle cx="1137.06" cy="563.32" r="1.2" fill="#3487d6"/><rect x="1100.69" y="565.96" width="49.82" height="5.27" rx="0" fill="#eef0f3" /><rect x="1102.79" y="567.8" width="18.98" height="1.58" rx="0" fill="#555b66" /><rect x="1102.79" y="575.97" width="7.91" height="1.32" rx="0" fill="#444a55" /><rect x="1143.65" y="575.97" width="4.48" height="1.32" rx="0" fill="#444a55" /><rect x="1102.79" y="578.61" width="28.99" height="1.05" rx="0" fill="#8a909a" /><rect x="1100.69" y="581.24" width="49.82" height="0.26" rx="0" fill="#e2e4e8" /><rect x="1102.79" y="582.83" width="7.91" height="1.32" rx="0" fill="#444a55" /><rect x="1143.65" y="582.83" width="4.48" height="1.32" rx="0" fill="#444a55" /><rect x="1102.79" y="585.46" width="28.99" height="1.05" rx="0" fill="#8a909a" /><rect x="1100.69" y="588.1" width="49.82" height="0.26" rx="0" fill="#e2e4e8" /><rect x="1102.79" y="589.68" width="7.91" height="1.32" rx="0" fill="#444a55" /><rect x="1143.65" y="589.68" width="4.48" height="1.32" rx="0" fill="#444a55" /><rect x="1102.79" y="592.31" width="28.99" height="1.05" rx="0" fill="#8a909a" /><rect x="1100.69" y="594.95" width="49.82" height="0.26" rx="0" fill="#e2e4e8" /><rect x="1100.69" y="593.1" width="49.82" height="6.85" rx="0" fill="#f7f8fa" /><rect x="1107.27" y="593.9" width="3.16" height="3.16" rx="0.8" fill="#3fa8f4" /><circle cx="1125.99" cy="595.48" r="1.2" fill="#b8bcc4"/><circle cx="1142.33" cy="595.48" r="1.2" fill="#b8bcc4"/><circle cx="1114.13" cy="604.44" r="1" fill="#4a4c50"/><circle cx="1125.46" cy="604.44" r="1" fill="#4a4c50"/><circle cx="1136.53" cy="604.44" r="1" fill="#4a4c50"/><circle cx="1142.33" cy="510.61" r="0.7" fill="#3a3f55"/></g></g><g filter="url(#b03)"><text x="473" y="108.6" font-size="16" fill="#1a1a1a" >4G联网</text><text x="471.4" y="311.5" font-size="16" fill="#1a1a1a" >4G联网</text><text x="471.4" y="555.7" font-size="16" fill="#1a1a1a" >4G联网</text><text x="364.6" y="188" font-size="16" fill="#1a1a1a" >HINET智能网关</text><text x="364.9" y="398" font-size="16" fill="#1a1a1a" >HINET智能网关</text><text x="373.6" y="624.8" font-size="16" fill="#1a1a1a" >HINET智能网关</text><text x="652.2" y="409.3" font-size="18.5" fill="#1a1a1a" >云端数据服务器</text><text x="1025.3" y="438" font-size="21.2" fill="#1a1a1a" >PC端监控</text><text x="1024.2" y="662.7" font-size="21.3" fill="#1a1a1a" >手机APP监控</text></g>
<g>
 <rect x="1131" y="630.5" width="44.5" height="20" fill="#ffffff"/>
 <line x1="1127" y1="650.6" x2="1175.5" y2="650.6" stroke="#cfcfcf" stroke-width="0.8"/>
 <line x1="1131.2" y1="631" x2="1131.2" y2="649" stroke="#9a9a9a" stroke-width="1" stroke-dasharray="1.2 1.6"/>
 <g transform="translate(1145.8,639.9) rotate(-14)">
  <rect x="-6.6" y="-6.2" width="13.2" height="12.4" rx="2.2" fill="#f4511e"/>
  <text x="0" y="4.6" text-anchor="middle" font-size="13" font-weight="bold" font-style="italic" fill="#fff" style="font-family:'Liberation Sans',sans-serif">S</text>
 </g>
 <rect x="1164.3" y="636.4" width="4.4" height="1.5" fill="#222"/>
 <path d="M1164 643.2 L1169 643.2 L1166.5 646.2 Z" fill="#222"/>
</g>

<g fill="none" stroke="#d9d9d9" stroke-width="1.6" stroke-linecap="round" stroke-linejoin="round">
 <path d="M9 684 L20.5 672.8 L23.5 673.2 L24 676 L16 684"/>
 <rect x="34.5" y="675.3" width="18.2" height="12" />
 <path d="M37 678.5 H50.5" stroke-dasharray="1.5 1.2" stroke-width="1.2"/>
 <path d="M64.5 684 C66 676 78 672.5 82.5 676.5 C83.5 679 82 682 80 684"/>
 <path d="M94 684 L104.5 673 L109 673.5 L112 677.5 L106 684"/>
 <path d="M127.5 684 V672.5 L139 684"/>
</g>

</svg>
</body>
</html>
